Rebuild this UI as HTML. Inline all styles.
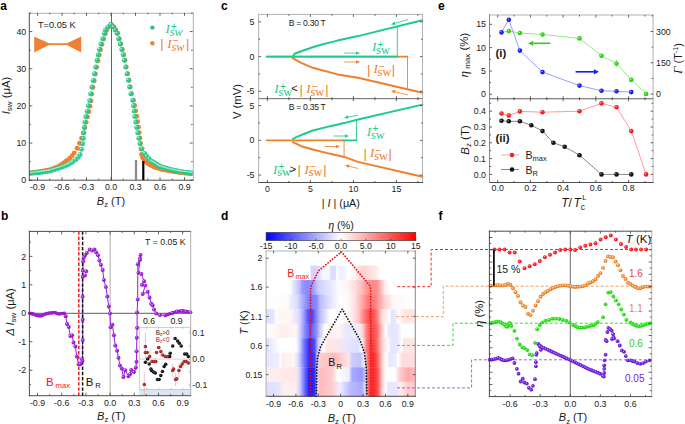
<!DOCTYPE html><html><head><meta charset="utf-8"><style>html,body{margin:0;padding:0;background:#fff;overflow:hidden}svg{display:block}</style></head><body>
<svg width="685" height="424" viewBox="0 0 685 424">
<rect width="685" height="424" fill="#fff"/>
<text x="0.30" y="9.90" font-size="12" text-anchor="start" fill="#000" font-weight="bold" font-style="normal" font-family='"Liberation Sans", sans-serif'>a</text>
<text x="0.90" y="219.80" font-size="12" text-anchor="start" fill="#000" font-weight="bold" font-style="normal" font-family='"Liberation Sans", sans-serif'>b</text>
<text x="221.00" y="9.90" font-size="12" text-anchor="start" fill="#000" font-weight="bold" font-style="normal" font-family='"Liberation Sans", sans-serif'>c</text>
<text x="221.00" y="219.80" font-size="12" text-anchor="start" fill="#000" font-weight="bold" font-style="normal" font-family='"Liberation Sans", sans-serif'>d</text>
<text x="438.00" y="9.90" font-size="12" text-anchor="start" fill="#000" font-weight="bold" font-style="normal" font-family='"Liberation Sans", sans-serif'>e</text>
<text x="438.50" y="219.80" font-size="12" text-anchor="start" fill="#000" font-weight="bold" font-style="normal" font-family='"Liberation Sans", sans-serif'>f</text>
<line x1="111.50" y1="12.80" x2="111.50" y2="180.20" stroke="#555" stroke-width="0.9"/>
<clipPath id="clipA"><rect x="29.3" y="12.8" width="163.4" height="167.4"/></clipPath><g clip-path="url(#clipA)">
<g fill="#ee8133" stroke="none" stroke-width="0"><circle cx="111.20" cy="24.60" r="2.45"/><circle cx="108.60" cy="27.23" r="2.45"/><circle cx="106.53" cy="30.21" r="2.45"/><circle cx="105.27" cy="33.69" r="2.45"/><circle cx="103.64" cy="39.04" r="2.45"/><circle cx="101.93" cy="44.38" r="2.45"/><circle cx="100.47" cy="49.78" r="2.45"/><circle cx="99.16" cy="55.23" r="2.45"/><circle cx="97.97" cy="60.70" r="2.45"/><circle cx="96.66" cy="67.37" r="2.45"/><circle cx="95.43" cy="74.06" r="2.45"/><circle cx="94.22" cy="80.75" r="2.45"/><circle cx="92.88" cy="87.41" r="2.45"/><circle cx="91.80" cy="94.12" r="2.45"/><circle cx="91.01" cy="100.88" r="2.45"/><circle cx="89.95" cy="106.27" r="2.45"/><circle cx="88.79" cy="111.65" r="2.45"/><circle cx="87.50" cy="116.99" r="2.45"/><circle cx="86.17" cy="122.33" r="2.45"/><circle cx="84.75" cy="127.64" r="2.45"/><circle cx="83.21" cy="132.92" r="2.45"/><circle cx="81.57" cy="138.17" r="2.45"/><circle cx="79.55" cy="143.28" r="2.45"/><circle cx="77.14" cy="148.21" r="2.45"/><circle cx="74.30" cy="152.92" r="2.45"/><circle cx="72.15" cy="155.65" r="2.45"/><circle cx="69.67" cy="158.13" r="2.45"/><circle cx="67.05" cy="160.44" r="2.45"/><circle cx="65.74" cy="161.52" r="2.45"/><circle cx="64.43" cy="162.61" r="2.45"/><circle cx="63.04" cy="163.58" r="2.45"/><circle cx="61.64" cy="164.54" r="2.45"/><circle cx="60.23" cy="165.49" r="2.45"/><circle cx="58.82" cy="166.44" r="2.45"/><circle cx="57.33" cy="167.23" r="2.45"/><circle cx="55.73" cy="167.80" r="2.45"/><circle cx="54.12" cy="168.36" r="2.45"/><circle cx="52.52" cy="168.92" r="2.45"/><circle cx="50.91" cy="169.48" r="2.45"/><circle cx="49.28" cy="169.93" r="2.45"/><circle cx="47.61" cy="170.23" r="2.45"/><circle cx="45.93" cy="170.53" r="2.45"/><circle cx="44.26" cy="170.83" r="2.45"/><circle cx="42.59" cy="171.13" r="2.45"/><circle cx="40.91" cy="171.44" r="2.45"/><circle cx="39.23" cy="171.70" r="2.45"/><circle cx="37.55" cy="171.93" r="2.45"/><circle cx="35.86" cy="172.15" r="2.45"/><circle cx="34.18" cy="172.38" r="2.45"/><circle cx="32.49" cy="172.60" r="2.45"/><circle cx="30.81" cy="172.83" r="2.45"/><circle cx="111.20" cy="24.60" r="2.45"/><circle cx="113.97" cy="26.89" r="2.45"/><circle cx="115.85" cy="30.08" r="2.45"/><circle cx="117.64" cy="33.31" r="2.45"/><circle cx="119.26" cy="38.67" r="2.45"/><circle cx="120.88" cy="44.03" r="2.45"/><circle cx="122.34" cy="49.43" r="2.45"/><circle cx="123.70" cy="54.87" r="2.45"/><circle cx="124.94" cy="60.32" r="2.45"/><circle cx="126.19" cy="67.01" r="2.45"/><circle cx="127.59" cy="73.66" r="2.45"/><circle cx="129.03" cy="80.31" r="2.45"/><circle cx="130.21" cy="87.00" r="2.45"/><circle cx="131.46" cy="93.69" r="2.45"/><circle cx="133.38" cy="100.16" r="2.45"/><circle cx="134.70" cy="105.48" r="2.45"/><circle cx="135.75" cy="110.87" r="2.45"/><circle cx="136.67" cy="116.30" r="2.45"/><circle cx="137.58" cy="121.72" r="2.45"/><circle cx="138.44" cy="127.15" r="2.45"/><circle cx="139.26" cy="132.59" r="2.45"/><circle cx="140.00" cy="138.04" r="2.45"/><circle cx="140.55" cy="143.51" r="2.45"/><circle cx="141.08" cy="148.99" r="2.45"/><circle cx="141.60" cy="154.46" r="2.45"/><circle cx="142.57" cy="157.71" r="2.45"/><circle cx="144.58" cy="160.57" r="2.45"/><circle cx="145.84" cy="161.72" r="2.45"/><circle cx="147.09" cy="162.87" r="2.45"/><circle cx="148.42" cy="163.91" r="2.45"/><circle cx="149.93" cy="164.69" r="2.45"/><circle cx="151.44" cy="165.47" r="2.45"/><circle cx="152.95" cy="166.25" r="2.45"/><circle cx="154.46" cy="167.02" r="2.45"/><circle cx="156.05" cy="167.62" r="2.45"/><circle cx="157.68" cy="168.10" r="2.45"/><circle cx="159.31" cy="168.59" r="2.45"/><circle cx="160.94" cy="169.08" r="2.45"/><circle cx="162.58" cy="169.50" r="2.45"/><circle cx="164.25" cy="169.79" r="2.45"/><circle cx="165.93" cy="170.09" r="2.45"/><circle cx="167.60" cy="170.38" r="2.45"/><circle cx="169.28" cy="170.67" r="2.45"/><circle cx="170.95" cy="170.96" r="2.45"/><circle cx="172.63" cy="171.25" r="2.45"/><circle cx="174.31" cy="171.53" r="2.45"/><circle cx="175.98" cy="171.82" r="2.45"/><circle cx="177.66" cy="172.10" r="2.45"/><circle cx="179.33" cy="172.39" r="2.45"/><circle cx="181.02" cy="172.61" r="2.45"/><circle cx="182.71" cy="172.78" r="2.45"/><circle cx="184.40" cy="172.96" r="2.45"/><circle cx="186.09" cy="173.13" r="2.45"/><circle cx="187.78" cy="173.31" r="2.45"/><circle cx="189.47" cy="173.49" r="2.45"/><circle cx="191.16" cy="173.66" r="2.45"/></g>
<g opacity="0.9">
<g fill="#22c98e" stroke="none" stroke-width="0"><circle cx="110.70" cy="24.60" r="2.5"/><circle cx="107.86" cy="26.96" r="2.5"/><circle cx="105.65" cy="29.85" r="2.5"/><circle cx="104.40" cy="33.33" r="2.5"/><circle cx="102.75" cy="38.69" r="2.5"/><circle cx="101.04" cy="44.02" r="2.5"/><circle cx="99.56" cy="49.42" r="2.5"/><circle cx="98.25" cy="54.86" r="2.5"/><circle cx="97.04" cy="60.33" r="2.5"/><circle cx="95.73" cy="67.00" r="2.5"/><circle cx="94.49" cy="73.69" r="2.5"/><circle cx="93.29" cy="80.38" r="2.5"/><circle cx="91.90" cy="87.04" r="2.5"/><circle cx="90.69" cy="93.72" r="2.5"/><circle cx="89.77" cy="100.46" r="2.5"/><circle cx="88.35" cy="105.77" r="2.5"/><circle cx="87.26" cy="111.15" r="2.5"/><circle cx="85.91" cy="116.49" r="2.5"/><circle cx="84.96" cy="121.90" r="2.5"/><circle cx="84.42" cy="127.37" r="2.5"/><circle cx="83.85" cy="132.84" r="2.5"/><circle cx="83.22" cy="138.30" r="2.5"/><circle cx="82.59" cy="143.77" r="2.5"/><circle cx="81.45" cy="149.15" r="2.5"/><circle cx="80.00" cy="154.45" r="2.5"/><circle cx="78.16" cy="157.31" r="2.5"/><circle cx="75.66" cy="159.75" r="2.5"/><circle cx="72.78" cy="161.70" r="2.5"/><circle cx="71.30" cy="162.54" r="2.5"/><circle cx="69.82" cy="163.37" r="2.5"/><circle cx="68.34" cy="164.21" r="2.5"/><circle cx="66.84" cy="164.99" r="2.5"/><circle cx="65.26" cy="165.62" r="2.5"/><circle cx="63.68" cy="166.26" r="2.5"/><circle cx="62.10" cy="166.89" r="2.5"/><circle cx="60.53" cy="167.53" r="2.5"/><circle cx="58.93" cy="168.10" r="2.5"/><circle cx="57.30" cy="168.60" r="2.5"/><circle cx="55.68" cy="169.09" r="2.5"/><circle cx="54.05" cy="169.58" r="2.5"/><circle cx="52.42" cy="170.07" r="2.5"/><circle cx="50.79" cy="170.56" r="2.5"/><circle cx="49.14" cy="170.93" r="2.5"/><circle cx="47.46" cy="171.18" r="2.5"/><circle cx="45.78" cy="171.43" r="2.5"/><circle cx="44.09" cy="171.69" r="2.5"/><circle cx="42.41" cy="171.94" r="2.5"/><circle cx="40.73" cy="172.19" r="2.5"/><circle cx="39.05" cy="172.40" r="2.5"/><circle cx="37.35" cy="172.58" r="2.5"/><circle cx="35.66" cy="172.75" r="2.5"/><circle cx="33.97" cy="172.93" r="2.5"/><circle cx="32.28" cy="173.11" r="2.5"/><circle cx="30.59" cy="173.29" r="2.5"/><circle cx="110.70" cy="24.60" r="2.5"/><circle cx="113.47" cy="26.89" r="2.5"/><circle cx="115.35" cy="30.08" r="2.5"/><circle cx="117.14" cy="33.31" r="2.5"/><circle cx="118.76" cy="38.67" r="2.5"/><circle cx="120.38" cy="44.03" r="2.5"/><circle cx="121.84" cy="49.43" r="2.5"/><circle cx="123.20" cy="54.87" r="2.5"/><circle cx="124.44" cy="60.32" r="2.5"/><circle cx="125.69" cy="67.01" r="2.5"/><circle cx="127.09" cy="73.66" r="2.5"/><circle cx="128.53" cy="80.31" r="2.5"/><circle cx="129.71" cy="87.00" r="2.5"/><circle cx="130.96" cy="93.69" r="2.5"/><circle cx="132.77" cy="100.22" r="2.5"/><circle cx="133.56" cy="105.63" r="2.5"/><circle cx="134.16" cy="111.09" r="2.5"/><circle cx="134.81" cy="116.55" r="2.5"/><circle cx="135.73" cy="121.98" r="2.5"/><circle cx="136.68" cy="127.39" r="2.5"/><circle cx="137.77" cy="132.78" r="2.5"/><circle cx="138.89" cy="138.17" r="2.5"/><circle cx="140.05" cy="143.54" r="2.5"/><circle cx="142.03" cy="148.67" r="2.5"/><circle cx="144.68" cy="153.46" r="2.5"/><circle cx="146.71" cy="156.30" r="2.5"/><circle cx="149.21" cy="158.75" r="2.5"/><circle cx="151.75" cy="161.15" r="2.5"/><circle cx="153.18" cy="162.06" r="2.5"/><circle cx="154.62" cy="162.96" r="2.5"/><circle cx="156.06" cy="163.87" r="2.5"/><circle cx="157.50" cy="164.78" r="2.5"/><circle cx="158.94" cy="165.68" r="2.5"/><circle cx="160.38" cy="166.59" r="2.5"/><circle cx="162.00" cy="167.08" r="2.5"/><circle cx="163.63" cy="167.58" r="2.5"/><circle cx="165.26" cy="168.07" r="2.5"/><circle cx="166.88" cy="168.56" r="2.5"/><circle cx="168.51" cy="169.05" r="2.5"/><circle cx="170.14" cy="169.53" r="2.5"/><circle cx="171.81" cy="169.86" r="2.5"/><circle cx="173.48" cy="170.20" r="2.5"/><circle cx="175.14" cy="170.53" r="2.5"/><circle cx="176.81" cy="170.86" r="2.5"/><circle cx="178.48" cy="171.20" r="2.5"/><circle cx="180.15" cy="171.52" r="2.5"/><circle cx="181.83" cy="171.72" r="2.5"/><circle cx="183.52" cy="171.92" r="2.5"/><circle cx="185.21" cy="172.13" r="2.5"/><circle cx="186.90" cy="172.33" r="2.5"/><circle cx="188.59" cy="172.53" r="2.5"/><circle cx="190.27" cy="172.73" r="2.5"/><circle cx="191.96" cy="172.94" r="2.5"/></g>
</g>
<g fill="#bff3dc" stroke="none" stroke-width="0"><circle cx="109.90" cy="23.80" r="0.8"/><circle cx="107.06" cy="26.16" r="0.8"/><circle cx="104.85" cy="29.05" r="0.8"/><circle cx="103.60" cy="32.53" r="0.8"/><circle cx="101.95" cy="37.89" r="0.8"/><circle cx="100.24" cy="43.22" r="0.8"/><circle cx="98.76" cy="48.62" r="0.8"/><circle cx="97.45" cy="54.06" r="0.8"/><circle cx="96.24" cy="59.53" r="0.8"/><circle cx="94.93" cy="66.20" r="0.8"/><circle cx="93.69" cy="72.89" r="0.8"/><circle cx="92.49" cy="79.58" r="0.8"/><circle cx="91.10" cy="86.24" r="0.8"/><circle cx="89.89" cy="92.92" r="0.8"/><circle cx="88.97" cy="99.66" r="0.8"/><circle cx="87.55" cy="104.97" r="0.8"/><circle cx="86.46" cy="110.35" r="0.8"/><circle cx="85.11" cy="115.69" r="0.8"/><circle cx="84.16" cy="121.10" r="0.8"/><circle cx="83.62" cy="126.57" r="0.8"/><circle cx="83.05" cy="132.04" r="0.8"/><circle cx="82.42" cy="137.50" r="0.8"/><circle cx="81.79" cy="142.97" r="0.8"/><circle cx="80.65" cy="148.35" r="0.8"/><circle cx="79.20" cy="153.65" r="0.8"/><circle cx="77.36" cy="156.51" r="0.8"/><circle cx="74.86" cy="158.95" r="0.8"/><circle cx="71.98" cy="160.90" r="0.8"/><circle cx="70.50" cy="161.74" r="0.8"/><circle cx="69.02" cy="162.57" r="0.8"/><circle cx="67.54" cy="163.41" r="0.8"/><circle cx="66.04" cy="164.19" r="0.8"/><circle cx="64.46" cy="164.82" r="0.8"/><circle cx="62.88" cy="165.46" r="0.8"/><circle cx="61.30" cy="166.09" r="0.8"/><circle cx="59.73" cy="166.73" r="0.8"/><circle cx="58.13" cy="167.30" r="0.8"/><circle cx="56.50" cy="167.80" r="0.8"/><circle cx="54.88" cy="168.29" r="0.8"/><circle cx="53.25" cy="168.78" r="0.8"/><circle cx="51.62" cy="169.27" r="0.8"/><circle cx="49.99" cy="169.76" r="0.8"/><circle cx="48.34" cy="170.13" r="0.8"/><circle cx="46.66" cy="170.38" r="0.8"/><circle cx="44.98" cy="170.63" r="0.8"/><circle cx="43.29" cy="170.89" r="0.8"/><circle cx="41.61" cy="171.14" r="0.8"/><circle cx="39.93" cy="171.39" r="0.8"/><circle cx="38.25" cy="171.60" r="0.8"/><circle cx="36.55" cy="171.78" r="0.8"/><circle cx="34.86" cy="171.95" r="0.8"/><circle cx="33.17" cy="172.13" r="0.8"/><circle cx="31.48" cy="172.31" r="0.8"/><circle cx="29.79" cy="172.49" r="0.8"/><circle cx="109.90" cy="23.80" r="0.8"/><circle cx="112.67" cy="26.09" r="0.8"/><circle cx="114.55" cy="29.28" r="0.8"/><circle cx="116.34" cy="32.51" r="0.8"/><circle cx="117.96" cy="37.87" r="0.8"/><circle cx="119.58" cy="43.23" r="0.8"/><circle cx="121.04" cy="48.63" r="0.8"/><circle cx="122.40" cy="54.07" r="0.8"/><circle cx="123.64" cy="59.52" r="0.8"/><circle cx="124.89" cy="66.21" r="0.8"/><circle cx="126.29" cy="72.86" r="0.8"/><circle cx="127.73" cy="79.51" r="0.8"/><circle cx="128.91" cy="86.20" r="0.8"/><circle cx="130.16" cy="92.89" r="0.8"/><circle cx="131.97" cy="99.42" r="0.8"/><circle cx="132.76" cy="104.83" r="0.8"/><circle cx="133.36" cy="110.29" r="0.8"/><circle cx="134.01" cy="115.75" r="0.8"/><circle cx="134.93" cy="121.18" r="0.8"/><circle cx="135.88" cy="126.59" r="0.8"/><circle cx="136.97" cy="131.98" r="0.8"/><circle cx="138.09" cy="137.37" r="0.8"/><circle cx="139.25" cy="142.74" r="0.8"/><circle cx="141.23" cy="147.87" r="0.8"/><circle cx="143.88" cy="152.66" r="0.8"/><circle cx="145.91" cy="155.50" r="0.8"/><circle cx="148.41" cy="157.95" r="0.8"/><circle cx="150.95" cy="160.35" r="0.8"/><circle cx="152.38" cy="161.26" r="0.8"/><circle cx="153.82" cy="162.16" r="0.8"/><circle cx="155.26" cy="163.07" r="0.8"/><circle cx="156.70" cy="163.98" r="0.8"/><circle cx="158.14" cy="164.88" r="0.8"/><circle cx="159.58" cy="165.79" r="0.8"/><circle cx="161.20" cy="166.28" r="0.8"/><circle cx="162.83" cy="166.78" r="0.8"/><circle cx="164.46" cy="167.27" r="0.8"/><circle cx="166.08" cy="167.76" r="0.8"/><circle cx="167.71" cy="168.25" r="0.8"/><circle cx="169.34" cy="168.73" r="0.8"/><circle cx="171.01" cy="169.06" r="0.8"/><circle cx="172.68" cy="169.40" r="0.8"/><circle cx="174.34" cy="169.73" r="0.8"/><circle cx="176.01" cy="170.06" r="0.8"/><circle cx="177.68" cy="170.40" r="0.8"/><circle cx="179.35" cy="170.72" r="0.8"/><circle cx="181.03" cy="170.92" r="0.8"/><circle cx="182.72" cy="171.12" r="0.8"/><circle cx="184.41" cy="171.33" r="0.8"/><circle cx="186.10" cy="171.53" r="0.8"/><circle cx="187.79" cy="171.73" r="0.8"/><circle cx="189.47" cy="171.93" r="0.8"/><circle cx="191.16" cy="172.14" r="0.8"/></g>
</g>
<g stroke-width="0.9" stroke-linecap="square"><line x1="29.30" y1="13.30" x2="193.30" y2="13.30" stroke="#a8a8a8"/><line x1="193.30" y1="13.30" x2="193.30" y2="180.20" stroke="#a8a8a8"/><line x1="29.30" y1="180.20" x2="193.30" y2="180.20" stroke="#3a3a3a"/><line x1="29.30" y1="13.30" x2="29.30" y2="180.20" stroke="#3a3a3a"/></g>
<line x1="37.47" y1="180.20" x2="37.47" y2="177.20" stroke="#3a3a3a" stroke-width="0.8"/>
<line x1="37.47" y1="12.80" x2="37.47" y2="15.80" stroke="#3a3a3a" stroke-width="0.8"/>
<line x1="49.72" y1="180.20" x2="49.72" y2="178.60" stroke="#3a3a3a" stroke-width="0.8"/>
<line x1="49.72" y1="12.80" x2="49.72" y2="14.40" stroke="#3a3a3a" stroke-width="0.8"/>
<line x1="61.98" y1="180.20" x2="61.98" y2="177.20" stroke="#3a3a3a" stroke-width="0.8"/>
<line x1="61.98" y1="12.80" x2="61.98" y2="15.80" stroke="#3a3a3a" stroke-width="0.8"/>
<line x1="74.23" y1="180.20" x2="74.23" y2="178.60" stroke="#3a3a3a" stroke-width="0.8"/>
<line x1="74.23" y1="12.80" x2="74.23" y2="14.40" stroke="#3a3a3a" stroke-width="0.8"/>
<line x1="86.49" y1="180.20" x2="86.49" y2="177.20" stroke="#3a3a3a" stroke-width="0.8"/>
<line x1="86.49" y1="12.80" x2="86.49" y2="15.80" stroke="#3a3a3a" stroke-width="0.8"/>
<line x1="98.75" y1="180.20" x2="98.75" y2="178.60" stroke="#3a3a3a" stroke-width="0.8"/>
<line x1="98.75" y1="12.80" x2="98.75" y2="14.40" stroke="#3a3a3a" stroke-width="0.8"/>
<line x1="111.00" y1="180.20" x2="111.00" y2="177.20" stroke="#3a3a3a" stroke-width="0.8"/>
<line x1="111.00" y1="12.80" x2="111.00" y2="15.80" stroke="#3a3a3a" stroke-width="0.8"/>
<line x1="123.25" y1="180.20" x2="123.25" y2="178.60" stroke="#3a3a3a" stroke-width="0.8"/>
<line x1="123.25" y1="12.80" x2="123.25" y2="14.40" stroke="#3a3a3a" stroke-width="0.8"/>
<line x1="135.51" y1="180.20" x2="135.51" y2="177.20" stroke="#3a3a3a" stroke-width="0.8"/>
<line x1="135.51" y1="12.80" x2="135.51" y2="15.80" stroke="#3a3a3a" stroke-width="0.8"/>
<line x1="147.76" y1="180.20" x2="147.76" y2="178.60" stroke="#3a3a3a" stroke-width="0.8"/>
<line x1="147.76" y1="12.80" x2="147.76" y2="14.40" stroke="#3a3a3a" stroke-width="0.8"/>
<line x1="160.02" y1="180.20" x2="160.02" y2="177.20" stroke="#3a3a3a" stroke-width="0.8"/>
<line x1="160.02" y1="12.80" x2="160.02" y2="15.80" stroke="#3a3a3a" stroke-width="0.8"/>
<line x1="172.28" y1="180.20" x2="172.28" y2="178.60" stroke="#3a3a3a" stroke-width="0.8"/>
<line x1="172.28" y1="12.80" x2="172.28" y2="14.40" stroke="#3a3a3a" stroke-width="0.8"/>
<line x1="184.53" y1="180.20" x2="184.53" y2="177.20" stroke="#3a3a3a" stroke-width="0.8"/>
<line x1="184.53" y1="12.80" x2="184.53" y2="15.80" stroke="#3a3a3a" stroke-width="0.8"/>
<line x1="29.30" y1="180.20" x2="32.30" y2="180.20" stroke="#3a3a3a" stroke-width="0.8"/>
<line x1="192.70" y1="180.20" x2="189.70" y2="180.20" stroke="#3a3a3a" stroke-width="0.8"/>
<line x1="29.30" y1="161.62" x2="30.90" y2="161.62" stroke="#3a3a3a" stroke-width="0.8"/>
<line x1="192.70" y1="161.62" x2="191.10" y2="161.62" stroke="#3a3a3a" stroke-width="0.8"/>
<line x1="29.30" y1="143.05" x2="32.30" y2="143.05" stroke="#3a3a3a" stroke-width="0.8"/>
<line x1="192.70" y1="143.05" x2="189.70" y2="143.05" stroke="#3a3a3a" stroke-width="0.8"/>
<line x1="29.30" y1="124.47" x2="30.90" y2="124.47" stroke="#3a3a3a" stroke-width="0.8"/>
<line x1="192.70" y1="124.47" x2="191.10" y2="124.47" stroke="#3a3a3a" stroke-width="0.8"/>
<line x1="29.30" y1="105.90" x2="32.30" y2="105.90" stroke="#3a3a3a" stroke-width="0.8"/>
<line x1="192.70" y1="105.90" x2="189.70" y2="105.90" stroke="#3a3a3a" stroke-width="0.8"/>
<line x1="29.30" y1="87.32" x2="30.90" y2="87.32" stroke="#3a3a3a" stroke-width="0.8"/>
<line x1="192.70" y1="87.32" x2="191.10" y2="87.32" stroke="#3a3a3a" stroke-width="0.8"/>
<line x1="29.30" y1="68.75" x2="32.30" y2="68.75" stroke="#3a3a3a" stroke-width="0.8"/>
<line x1="192.70" y1="68.75" x2="189.70" y2="68.75" stroke="#3a3a3a" stroke-width="0.8"/>
<line x1="29.30" y1="50.17" x2="30.90" y2="50.17" stroke="#3a3a3a" stroke-width="0.8"/>
<line x1="192.70" y1="50.17" x2="191.10" y2="50.17" stroke="#3a3a3a" stroke-width="0.8"/>
<line x1="29.30" y1="31.60" x2="32.30" y2="31.60" stroke="#3a3a3a" stroke-width="0.8"/>
<line x1="192.70" y1="31.60" x2="189.70" y2="31.60" stroke="#3a3a3a" stroke-width="0.8"/>
<line x1="29.30" y1="13.03" x2="30.90" y2="13.03" stroke="#3a3a3a" stroke-width="0.8"/>
<line x1="192.70" y1="13.03" x2="191.10" y2="13.03" stroke="#3a3a3a" stroke-width="0.8"/>
<text x="37.47" y="190.40" font-size="8.8" text-anchor="middle" fill="#1a1a1a" font-weight="normal" font-style="normal" font-family='"Liberation Sans", sans-serif'>-0.9</text>
<text x="61.98" y="190.40" font-size="8.8" text-anchor="middle" fill="#1a1a1a" font-weight="normal" font-style="normal" font-family='"Liberation Sans", sans-serif'>-0.6</text>
<text x="86.49" y="190.40" font-size="8.8" text-anchor="middle" fill="#1a1a1a" font-weight="normal" font-style="normal" font-family='"Liberation Sans", sans-serif'>-0.3</text>
<text x="111.00" y="190.40" font-size="8.8" text-anchor="middle" fill="#1a1a1a" font-weight="normal" font-style="normal" font-family='"Liberation Sans", sans-serif'>0.0</text>
<text x="135.51" y="190.40" font-size="8.8" text-anchor="middle" fill="#1a1a1a" font-weight="normal" font-style="normal" font-family='"Liberation Sans", sans-serif'>0.3</text>
<text x="160.02" y="190.40" font-size="8.8" text-anchor="middle" fill="#1a1a1a" font-weight="normal" font-style="normal" font-family='"Liberation Sans", sans-serif'>0.6</text>
<text x="184.53" y="190.40" font-size="8.8" text-anchor="middle" fill="#1a1a1a" font-weight="normal" font-style="normal" font-family='"Liberation Sans", sans-serif'>0.9</text>
<text x="26.20" y="183.30" font-size="8.8" text-anchor="end" fill="#1a1a1a" font-weight="normal" font-style="normal" font-family='"Liberation Sans", sans-serif'>0</text>
<text x="26.20" y="146.15" font-size="8.8" text-anchor="end" fill="#1a1a1a" font-weight="normal" font-style="normal" font-family='"Liberation Sans", sans-serif'>10</text>
<text x="26.20" y="109.00" font-size="8.8" text-anchor="end" fill="#1a1a1a" font-weight="normal" font-style="normal" font-family='"Liberation Sans", sans-serif'>20</text>
<text x="26.20" y="71.85" font-size="8.8" text-anchor="end" fill="#1a1a1a" font-weight="normal" font-style="normal" font-family='"Liberation Sans", sans-serif'>30</text>
<text x="26.20" y="34.70" font-size="8.8" text-anchor="end" fill="#1a1a1a" font-weight="normal" font-style="normal" font-family='"Liberation Sans", sans-serif'>40</text>
<text x="111.00" y="205.00" font-size="11" text-anchor="middle" fill="#1a1a1a" font-weight="normal" font-style="normal" font-family='"Liberation Sans", sans-serif'><tspan font-style="italic">B</tspan><tspan font-size="7.7" dy="2.4">z</tspan><tspan dy="-2.4"> (T)</tspan></text>
<text x="10.20" y="95.50" font-size="11.3" text-anchor="middle" fill="#1a1a1a" font-weight="normal" font-style="normal" font-family='"Liberation Sans", sans-serif' transform="rotate(-90 10.20 95.50)"><tspan font-style="italic">I</tspan><tspan font-size="8" dy="1.8">sw</tspan><tspan dy="-1.8"> (μA)</tspan></text>
<text x="38.00" y="28.40" font-size="9.2" text-anchor="start" fill="#1a1a1a" font-weight="normal" font-style="normal" font-family='"Liberation Sans", sans-serif'>T=0.05 K</text>
<path d="M34.2,36.4 L48.9,43.3 L67,43.3 L81.2,36.4 L81.2,52.4 L67,45.1 L48.9,45.1 L34.2,52.4 Z" fill="#ee8133"/>
<g fill="#22c98e" stroke="none" stroke-width="0"><circle cx="152.40" cy="27.60" r="2.2"/></g>
<g fill="#ee8133" stroke="none" stroke-width="0"><circle cx="152.40" cy="43.20" r="2.2"/></g>
<text x="165.50" y="33.00" font-family='"Liberation Serif", serif' font-style="italic" font-size="13" fill="#22c98e">I</text>
<text x="169.70" y="35.60" font-family='"Liberation Serif", serif' font-style="italic" font-size="12.3" fill="#22c98e">sw</text>
<text x="171.10" y="29.50" font-family='"Liberation Sans", sans-serif' font-size="10" fill="#22c98e">+</text>
<text x="160.30" y="47.70" font-family='"Liberation Sans", sans-serif' font-size="13" fill="#ee8133">|</text>
<text x="167.30" y="47.90" font-family='"Liberation Serif", serif' font-style="italic" font-size="13" fill="#ee8133">I</text>
<text x="171.50" y="50.50" font-family='"Liberation Serif", serif' font-style="italic" font-size="12.3" fill="#ee8133">sw</text>
<text x="172.90" y="44.40" font-family='"Liberation Sans", sans-serif' font-size="10" fill="#ee8133">−</text>
<text x="186.10" y="47.70" font-family='"Liberation Sans", sans-serif' font-size="13" fill="#ee8133">|</text>
<line x1="136.00" y1="160.00" x2="136.00" y2="180.00" stroke="#8a8a8a" stroke-width="2.3"/>
<line x1="143.30" y1="161.00" x2="143.30" y2="180.00" stroke="#000" stroke-width="2.2"/>
<line x1="110.10" y1="231.40" x2="110.10" y2="395.70" stroke="#aaa" stroke-width="1.0"/>
<line x1="29.40" y1="313.30" x2="190.70" y2="313.30" stroke="#333" stroke-width="0.8"/>
<rect x="139.3" y="327.3" width="51" height="62.2" fill="#fff"/>
<rect x="139.3" y="389.5" width="51" height="6.2" fill="#dbe6f5"/>
<polyline points="29.70,313.30 33.00,314.00 37.00,315.50 41.00,316.00 45.00,314.00 50.00,313.00 55.00,312.50 58.00,314.00 62.00,313.50 65.30,313.30 65.70,316.20 67.00,324.00 68.80,327.00 70.30,335.90 72.10,335.30 73.50,342.40 75.40,346.50 76.80,356.50 78.60,364.20 80.30,364.20 81.90,358.90 82.50,360.70 82.70,340.00 82.70,319.70 82.60,296.70 82.70,276.70 82.80,270.80 83.20,261.30 83.80,257.70 85.00,255.30 86.80,253.00 89.70,249.40 92.10,250.60 94.50,249.40 96.20,252.40 98.00,255.30 99.40,260.60 100.90,264.80 102.70,270.00 103.90,280.00 105.90,287.10 107.30,296.50 108.80,306.50 110.00,313.60 110.60,327.20 112.40,324.80 113.90,335.30 115.30,345.40 117.10,350.70 118.50,357.80 119.90,365.60 121.70,368.40 123.40,376.90 125.20,370.20 128.40,376.20 130.20,374.10 131.20,369.90 134.00,372.00 135.80,367.70 136.50,361.70 136.60,351.30 136.80,337.70 137.10,327.80 137.10,312.40 137.70,299.50 137.80,264.20 139.90,258.40 140.50,254.90 139.90,260.00 138.50,272.70 141.30,274.10 144.10,281.20 142.00,284.80 145.30,285.50 142.70,294.00 147.70,291.80 149.50,297.50 151.20,303.80 152.60,305.30 154.00,309.50 156.20,313.50 160.00,315.00 165.40,315.20 172.40,313.00 177.00,311.50 182.30,310.90 186.00,311.50 190.30,312.30" stroke="#9a1fd6" stroke-width="1.0" fill="none" stroke-linejoin="round" stroke-linecap="round"/>
<line x1="78.80" y1="231.40" x2="78.80" y2="395.70" stroke="#f02020" stroke-width="1.5" stroke-dasharray="3.4,1.8"/>
<line x1="82.60" y1="231.40" x2="82.60" y2="395.70" stroke="#111" stroke-width="1.5" stroke-dasharray="3.4,1.8"/>
<g fill="#9a1fd6" stroke="none" stroke-width="0"><circle cx="29.70" cy="313.30" r="1.8"/><circle cx="31.17" cy="313.61" r="1.8"/><circle cx="32.63" cy="313.92" r="1.8"/><circle cx="34.05" cy="314.40" r="1.8"/><circle cx="35.46" cy="314.92" r="1.8"/><circle cx="36.86" cy="315.45" r="1.8"/><circle cx="38.34" cy="315.67" r="1.8"/><circle cx="39.83" cy="315.85" r="1.8"/><circle cx="41.29" cy="315.86" r="1.8"/><circle cx="42.63" cy="315.18" r="1.8"/><circle cx="43.97" cy="314.51" r="1.8"/><circle cx="45.34" cy="313.93" r="1.8"/><circle cx="46.82" cy="313.64" r="1.8"/><circle cx="48.29" cy="313.34" r="1.8"/><circle cx="49.76" cy="313.05" r="1.8"/><circle cx="51.25" cy="312.88" r="1.8"/><circle cx="52.74" cy="312.73" r="1.8"/><circle cx="54.23" cy="312.58" r="1.8"/><circle cx="55.65" cy="312.83" r="1.8"/><circle cx="56.99" cy="313.50" r="1.8"/><circle cx="58.37" cy="313.95" r="1.8"/><circle cx="59.86" cy="313.77" r="1.8"/><circle cx="61.35" cy="313.58" r="1.8"/><circle cx="62.84" cy="313.45" r="1.8"/><circle cx="64.34" cy="313.36" r="1.8"/><circle cx="165.40" cy="315.20" r="1.8"/><circle cx="166.93" cy="314.72" r="1.8"/><circle cx="168.45" cy="314.24" r="1.8"/><circle cx="169.98" cy="313.76" r="1.8"/><circle cx="171.51" cy="313.28" r="1.8"/><circle cx="173.03" cy="312.79" r="1.8"/><circle cx="174.55" cy="312.30" r="1.8"/><circle cx="176.07" cy="311.80" r="1.8"/><circle cx="177.62" cy="311.43" r="1.8"/><circle cx="179.21" cy="311.25" r="1.8"/><circle cx="180.80" cy="311.07" r="1.8"/><circle cx="182.39" cy="310.91" r="1.8"/><circle cx="183.97" cy="311.17" r="1.8"/><circle cx="185.55" cy="311.43" r="1.8"/><circle cx="187.12" cy="311.71" r="1.8"/><circle cx="188.70" cy="312.00" r="1.8"/><circle cx="190.27" cy="312.29" r="1.8"/></g>
<g fill="#9a1fd6" stroke="none" stroke-width="0"><circle cx="65.70" cy="316.20" r="2.0"/><circle cx="67.00" cy="324.00" r="2.0"/><circle cx="68.80" cy="327.00" r="2.0"/><circle cx="70.30" cy="335.90" r="2.0"/><circle cx="72.10" cy="335.30" r="2.0"/><circle cx="73.50" cy="342.40" r="2.0"/><circle cx="75.40" cy="346.50" r="2.0"/><circle cx="76.80" cy="356.50" r="2.0"/><circle cx="78.60" cy="364.20" r="2.0"/><circle cx="80.30" cy="364.20" r="2.0"/><circle cx="81.90" cy="358.90" r="2.0"/><circle cx="82.50" cy="360.70" r="2.0"/><circle cx="82.70" cy="340.00" r="2.0"/><circle cx="82.70" cy="319.70" r="2.0"/><circle cx="82.60" cy="296.70" r="2.0"/><circle cx="82.70" cy="276.70" r="2.0"/><circle cx="82.80" cy="270.80" r="2.0"/><circle cx="83.20" cy="261.30" r="2.0"/><circle cx="83.80" cy="257.70" r="2.0"/><circle cx="85.00" cy="255.30" r="2.0"/><circle cx="86.80" cy="253.00" r="2.0"/><circle cx="89.70" cy="249.40" r="2.0"/><circle cx="92.10" cy="250.60" r="2.0"/><circle cx="94.50" cy="249.40" r="2.0"/><circle cx="96.20" cy="252.40" r="2.0"/><circle cx="98.00" cy="255.30" r="2.0"/><circle cx="99.40" cy="260.60" r="2.0"/><circle cx="100.90" cy="264.80" r="2.0"/><circle cx="102.70" cy="270.00" r="2.0"/><circle cx="103.90" cy="280.00" r="2.0"/><circle cx="105.90" cy="287.10" r="2.0"/><circle cx="107.30" cy="296.50" r="2.0"/><circle cx="108.80" cy="306.50" r="2.0"/><circle cx="110.00" cy="313.60" r="2.0"/><circle cx="110.60" cy="327.20" r="2.0"/><circle cx="112.40" cy="324.80" r="2.0"/><circle cx="113.90" cy="335.30" r="2.0"/><circle cx="115.30" cy="345.40" r="2.0"/><circle cx="117.10" cy="350.70" r="2.0"/><circle cx="118.50" cy="357.80" r="2.0"/><circle cx="119.90" cy="365.60" r="2.0"/><circle cx="121.70" cy="368.40" r="2.0"/><circle cx="123.40" cy="376.90" r="2.0"/><circle cx="125.20" cy="370.20" r="2.0"/><circle cx="128.40" cy="376.20" r="2.0"/><circle cx="130.20" cy="374.10" r="2.0"/><circle cx="131.20" cy="369.90" r="2.0"/><circle cx="134.00" cy="372.00" r="2.0"/><circle cx="135.80" cy="367.70" r="2.0"/><circle cx="136.50" cy="361.70" r="2.0"/><circle cx="136.60" cy="351.30" r="2.0"/><circle cx="136.80" cy="337.70" r="2.0"/><circle cx="137.10" cy="327.80" r="2.0"/><circle cx="137.10" cy="312.40" r="2.0"/><circle cx="137.70" cy="299.50" r="2.0"/><circle cx="137.80" cy="264.20" r="2.0"/><circle cx="139.90" cy="258.40" r="2.0"/><circle cx="140.50" cy="254.90" r="2.0"/><circle cx="139.90" cy="260.00" r="2.0"/><circle cx="138.50" cy="272.70" r="2.0"/><circle cx="141.30" cy="274.10" r="2.0"/><circle cx="144.10" cy="281.20" r="2.0"/><circle cx="142.00" cy="284.80" r="2.0"/><circle cx="145.30" cy="285.50" r="2.0"/><circle cx="142.70" cy="294.00" r="2.0"/><circle cx="147.70" cy="291.80" r="2.0"/><circle cx="149.50" cy="297.50" r="2.0"/><circle cx="151.20" cy="303.80" r="2.0"/><circle cx="152.60" cy="305.30" r="2.0"/><circle cx="154.00" cy="309.50" r="2.0"/><circle cx="156.20" cy="313.50" r="2.0"/><circle cx="160.00" cy="315.00" r="2.0"/><circle cx="165.40" cy="315.20" r="2.0"/><circle cx="172.40" cy="313.00" r="2.0"/><circle cx="177.00" cy="311.50" r="2.0"/><circle cx="182.30" cy="310.90" r="2.0"/><circle cx="186.00" cy="311.50" r="2.0"/><circle cx="190.30" cy="312.30" r="2.0"/><circle cx="86.20" cy="271.30" r="2.0"/><circle cx="85.00" cy="275.40" r="2.0"/></g>
<g fill="#e0b8f5" stroke="none" stroke-width="0"><circle cx="65.10" cy="315.60" r="0.65"/><circle cx="66.40" cy="323.40" r="0.65"/><circle cx="68.20" cy="326.40" r="0.65"/><circle cx="69.70" cy="335.30" r="0.65"/><circle cx="71.50" cy="334.70" r="0.65"/><circle cx="72.90" cy="341.80" r="0.65"/><circle cx="74.80" cy="345.90" r="0.65"/><circle cx="76.20" cy="355.90" r="0.65"/><circle cx="78.00" cy="363.60" r="0.65"/><circle cx="79.70" cy="363.60" r="0.65"/><circle cx="81.30" cy="358.30" r="0.65"/><circle cx="81.90" cy="360.10" r="0.65"/><circle cx="82.10" cy="339.40" r="0.65"/><circle cx="82.10" cy="319.10" r="0.65"/><circle cx="82.00" cy="296.10" r="0.65"/><circle cx="82.10" cy="276.10" r="0.65"/><circle cx="82.20" cy="270.20" r="0.65"/><circle cx="82.60" cy="260.70" r="0.65"/><circle cx="83.20" cy="257.10" r="0.65"/><circle cx="84.40" cy="254.70" r="0.65"/><circle cx="86.20" cy="252.40" r="0.65"/><circle cx="89.10" cy="248.80" r="0.65"/><circle cx="91.50" cy="250.00" r="0.65"/><circle cx="93.90" cy="248.80" r="0.65"/><circle cx="95.60" cy="251.80" r="0.65"/><circle cx="97.40" cy="254.70" r="0.65"/><circle cx="98.80" cy="260.00" r="0.65"/><circle cx="100.30" cy="264.20" r="0.65"/><circle cx="102.10" cy="269.40" r="0.65"/><circle cx="103.30" cy="279.40" r="0.65"/><circle cx="105.30" cy="286.50" r="0.65"/><circle cx="106.70" cy="295.90" r="0.65"/><circle cx="108.20" cy="305.90" r="0.65"/><circle cx="109.40" cy="313.00" r="0.65"/><circle cx="110.00" cy="326.60" r="0.65"/><circle cx="111.80" cy="324.20" r="0.65"/><circle cx="113.30" cy="334.70" r="0.65"/><circle cx="114.70" cy="344.80" r="0.65"/><circle cx="116.50" cy="350.10" r="0.65"/><circle cx="117.90" cy="357.20" r="0.65"/><circle cx="119.30" cy="365.00" r="0.65"/><circle cx="121.10" cy="367.80" r="0.65"/><circle cx="122.80" cy="376.30" r="0.65"/><circle cx="124.60" cy="369.60" r="0.65"/><circle cx="127.80" cy="375.60" r="0.65"/><circle cx="129.60" cy="373.50" r="0.65"/><circle cx="130.60" cy="369.30" r="0.65"/><circle cx="133.40" cy="371.40" r="0.65"/><circle cx="135.20" cy="367.10" r="0.65"/><circle cx="135.90" cy="361.10" r="0.65"/><circle cx="136.00" cy="350.70" r="0.65"/><circle cx="136.20" cy="337.10" r="0.65"/><circle cx="136.50" cy="327.20" r="0.65"/><circle cx="136.50" cy="311.80" r="0.65"/><circle cx="137.10" cy="298.90" r="0.65"/><circle cx="137.20" cy="263.60" r="0.65"/><circle cx="139.30" cy="257.80" r="0.65"/><circle cx="139.90" cy="254.30" r="0.65"/><circle cx="139.30" cy="259.40" r="0.65"/><circle cx="137.90" cy="272.10" r="0.65"/><circle cx="140.70" cy="273.50" r="0.65"/><circle cx="143.50" cy="280.60" r="0.65"/><circle cx="141.40" cy="284.20" r="0.65"/><circle cx="144.70" cy="284.90" r="0.65"/><circle cx="142.10" cy="293.40" r="0.65"/><circle cx="147.10" cy="291.20" r="0.65"/><circle cx="148.90" cy="296.90" r="0.65"/><circle cx="150.60" cy="303.20" r="0.65"/><circle cx="152.00" cy="304.70" r="0.65"/><circle cx="153.40" cy="308.90" r="0.65"/><circle cx="155.60" cy="312.90" r="0.65"/><circle cx="159.40" cy="314.40" r="0.65"/><circle cx="164.80" cy="314.60" r="0.65"/><circle cx="171.80" cy="312.40" r="0.65"/><circle cx="176.40" cy="310.90" r="0.65"/><circle cx="181.70" cy="310.30" r="0.65"/><circle cx="185.40" cy="310.90" r="0.65"/><circle cx="189.70" cy="311.70" r="0.65"/><circle cx="85.60" cy="270.70" r="0.65"/><circle cx="84.40" cy="274.80" r="0.65"/></g>
<rect x="139.3" y="327.3" width="50.9" height="62.2" fill="none" stroke="#bbb" stroke-width="0.7"/>
<line x1="139.30" y1="359.00" x2="190.20" y2="359.00" stroke="#bbb" stroke-width="0.7"/>
<line x1="147.00" y1="389.50" x2="147.00" y2="388.00" stroke="#999" stroke-width="0.6"/>
<line x1="147.00" y1="327.30" x2="147.00" y2="328.80" stroke="#999" stroke-width="0.6"/>
<line x1="158.60" y1="389.50" x2="158.60" y2="388.00" stroke="#999" stroke-width="0.6"/>
<line x1="158.60" y1="327.30" x2="158.60" y2="328.80" stroke="#999" stroke-width="0.6"/>
<line x1="171.00" y1="389.50" x2="171.00" y2="388.00" stroke="#999" stroke-width="0.6"/>
<line x1="171.00" y1="327.30" x2="171.00" y2="328.80" stroke="#999" stroke-width="0.6"/>
<line x1="182.90" y1="389.50" x2="182.90" y2="388.00" stroke="#999" stroke-width="0.6"/>
<line x1="182.90" y1="327.30" x2="182.90" y2="328.80" stroke="#999" stroke-width="0.6"/>
<line x1="190.20" y1="332.80" x2="188.70" y2="332.80" stroke="#999" stroke-width="0.6"/>
<line x1="190.20" y1="345.90" x2="188.70" y2="345.90" stroke="#999" stroke-width="0.6"/>
<line x1="190.20" y1="359.00" x2="188.70" y2="359.00" stroke="#999" stroke-width="0.6"/>
<line x1="190.20" y1="372.00" x2="188.70" y2="372.00" stroke="#999" stroke-width="0.6"/>
<line x1="190.20" y1="385.00" x2="188.70" y2="385.00" stroke="#999" stroke-width="0.6"/>
<line x1="144.30" y1="372.00" x2="144.30" y2="395.00" stroke="#e0a0a0" stroke-width="0.6"/>
<line x1="145.40" y1="333.00" x2="145.40" y2="358.00" stroke="#e0a0a0" stroke-width="0.6"/>
<line x1="150.00" y1="350.00" x2="150.00" y2="362.00" stroke="#e0a0a0" stroke-width="0.6"/>
<line x1="160.80" y1="346.00" x2="160.80" y2="357.00" stroke="#e0a0a0" stroke-width="0.6"/>
<line x1="175.60" y1="373.00" x2="175.60" y2="386.00" stroke="#e0a0a0" stroke-width="0.6"/>
<line x1="172.70" y1="364.00" x2="172.70" y2="377.00" stroke="#e0a0a0" stroke-width="0.6"/>
<line x1="178.90" y1="363.00" x2="178.90" y2="377.00" stroke="#e0a0a0" stroke-width="0.6"/>
<g fill="#a3201f" stroke="none" stroke-width="0"><circle cx="144.30" cy="384.60" r="1.75"/><circle cx="145.40" cy="346.60" r="1.75"/><circle cx="145.40" cy="352.40" r="1.75"/><circle cx="147.10" cy="352.40" r="1.75"/><circle cx="149.60" cy="356.50" r="1.75"/><circle cx="152.00" cy="361.50" r="1.75"/><circle cx="154.20" cy="361.50" r="1.75"/><circle cx="155.80" cy="361.50" r="1.75"/><circle cx="156.50" cy="352.40" r="1.75"/><circle cx="158.60" cy="347.50" r="1.75"/><circle cx="160.80" cy="351.60" r="1.75"/><circle cx="162.80" cy="354.90" r="1.75"/><circle cx="165.20" cy="356.50" r="1.75"/><circle cx="166.90" cy="356.50" r="1.75"/><circle cx="168.50" cy="356.50" r="1.75"/><circle cx="172.70" cy="370.60" r="1.75"/><circle cx="173.50" cy="368.90" r="1.75"/><circle cx="175.60" cy="379.60" r="1.75"/><circle cx="176.80" cy="378.80" r="1.75"/><circle cx="178.90" cy="370.60" r="1.75"/><circle cx="180.60" cy="366.40" r="1.75"/><circle cx="182.20" cy="364.00" r="1.75"/><circle cx="184.20" cy="361.50" r="1.75"/><circle cx="186.20" cy="361.50" r="1.75"/><circle cx="188.30" cy="363.10" r="1.75"/></g>
<g fill="#111" stroke="none" stroke-width="0"><circle cx="145.40" cy="362.30" r="1.75"/><circle cx="147.60" cy="359.00" r="1.75"/><circle cx="149.20" cy="364.00" r="1.75"/><circle cx="150.90" cy="368.90" r="1.75"/><circle cx="151.50" cy="370.60" r="1.75"/><circle cx="153.40" cy="372.00" r="1.75"/><circle cx="155.30" cy="373.00" r="1.75"/><circle cx="157.50" cy="379.60" r="1.75"/><circle cx="159.10" cy="379.60" r="1.75"/><circle cx="160.80" cy="375.50" r="1.75"/><circle cx="162.40" cy="371.40" r="1.75"/><circle cx="164.10" cy="366.40" r="1.75"/><circle cx="165.70" cy="364.30" r="1.75"/><circle cx="169.70" cy="356.50" r="1.75"/><circle cx="170.20" cy="353.20" r="1.75"/><circle cx="172.70" cy="346.10" r="1.75"/><circle cx="175.10" cy="338.40" r="1.75"/><circle cx="177.60" cy="340.90" r="1.75"/><circle cx="179.30" cy="343.30" r="1.75"/><circle cx="181.20" cy="346.10" r="1.75"/><circle cx="184.70" cy="354.00" r="1.75"/><circle cx="186.70" cy="354.00" r="1.75"/><circle cx="188.30" cy="356.50" r="1.75"/></g>
<g fill="#d88" stroke="none" stroke-width="0"><circle cx="143.80" cy="384.10" r="0.5"/><circle cx="144.90" cy="346.10" r="0.5"/><circle cx="144.90" cy="351.90" r="0.5"/><circle cx="146.60" cy="351.90" r="0.5"/><circle cx="149.10" cy="356.00" r="0.5"/><circle cx="151.50" cy="361.00" r="0.5"/><circle cx="153.70" cy="361.00" r="0.5"/><circle cx="155.30" cy="361.00" r="0.5"/><circle cx="156.00" cy="351.90" r="0.5"/><circle cx="158.10" cy="347.00" r="0.5"/><circle cx="160.30" cy="351.10" r="0.5"/><circle cx="162.30" cy="354.40" r="0.5"/><circle cx="164.70" cy="356.00" r="0.5"/><circle cx="166.40" cy="356.00" r="0.5"/><circle cx="168.00" cy="356.00" r="0.5"/><circle cx="172.20" cy="370.10" r="0.5"/><circle cx="173.00" cy="368.40" r="0.5"/><circle cx="175.10" cy="379.10" r="0.5"/><circle cx="176.30" cy="378.30" r="0.5"/><circle cx="178.40" cy="370.10" r="0.5"/><circle cx="180.10" cy="365.90" r="0.5"/><circle cx="181.70" cy="363.50" r="0.5"/><circle cx="183.70" cy="361.00" r="0.5"/><circle cx="185.70" cy="361.00" r="0.5"/><circle cx="187.80" cy="362.60" r="0.5"/></g>
<g fill="#777" stroke="none" stroke-width="0"><circle cx="144.90" cy="361.80" r="0.5"/><circle cx="147.10" cy="358.50" r="0.5"/><circle cx="148.70" cy="363.50" r="0.5"/><circle cx="150.40" cy="368.40" r="0.5"/><circle cx="151.00" cy="370.10" r="0.5"/><circle cx="152.90" cy="371.50" r="0.5"/><circle cx="154.80" cy="372.50" r="0.5"/><circle cx="157.00" cy="379.10" r="0.5"/><circle cx="158.60" cy="379.10" r="0.5"/><circle cx="160.30" cy="375.00" r="0.5"/><circle cx="161.90" cy="370.90" r="0.5"/><circle cx="163.60" cy="365.90" r="0.5"/><circle cx="165.20" cy="363.80" r="0.5"/><circle cx="169.20" cy="356.00" r="0.5"/><circle cx="169.70" cy="352.70" r="0.5"/><circle cx="172.20" cy="345.60" r="0.5"/><circle cx="174.60" cy="337.90" r="0.5"/><circle cx="177.10" cy="340.40" r="0.5"/><circle cx="178.80" cy="342.80" r="0.5"/><circle cx="180.70" cy="345.60" r="0.5"/><circle cx="184.20" cy="353.50" r="0.5"/><circle cx="186.20" cy="353.50" r="0.5"/><circle cx="187.80" cy="356.00" r="0.5"/></g>
<text x="155.80" y="334.50" font-size="6.3" text-anchor="start" fill="#222" font-weight="normal" font-style="normal" font-family='"Liberation Sans", sans-serif'>B<tspan font-size="4.5" dy="1">z</tspan><tspan dy="-1">&gt;0</tspan></text>
<text x="155.80" y="342.30" font-size="6.3" text-anchor="start" fill="#a3201f" font-weight="normal" font-style="normal" font-family='"Liberation Sans", sans-serif'>B<tspan font-size="4.5" dy="1">z</tspan><tspan dy="-1">&lt;0</tspan></text>
<text x="149.00" y="324.20" font-size="8.8" text-anchor="middle" fill="#1a1a1a" font-weight="normal" font-style="normal" font-family='"Liberation Sans", sans-serif'>0.6</text>
<text x="176.50" y="324.20" font-size="8.8" text-anchor="middle" fill="#1a1a1a" font-weight="normal" font-style="normal" font-family='"Liberation Sans", sans-serif'>0.9</text>
<text x="192.30" y="335.80" font-size="8.8" text-anchor="start" fill="#1a1a1a" font-weight="normal" font-style="normal" font-family='"Liberation Sans", sans-serif'>0.1</text>
<text x="192.30" y="362.00" font-size="8.8" text-anchor="start" fill="#1a1a1a" font-weight="normal" font-style="normal" font-family='"Liberation Sans", sans-serif'>0.0</text>
<text x="192.30" y="388.00" font-size="8.8" text-anchor="start" fill="#1a1a1a" font-weight="normal" font-style="normal" font-family='"Liberation Sans", sans-serif'>-0.1</text>
<g stroke-width="0.9" stroke-linecap="square"><line x1="29.40" y1="231.40" x2="190.70" y2="231.40" stroke="#3a3a3a"/><line x1="190.70" y1="231.40" x2="190.70" y2="395.70" stroke="#a8a8a8"/><line x1="29.40" y1="395.70" x2="190.70" y2="395.70" stroke="#3a3a3a"/><line x1="29.40" y1="231.40" x2="29.40" y2="395.70" stroke="#3a3a3a"/></g>
<line x1="37.51" y1="395.70" x2="37.51" y2="392.70" stroke="#3a3a3a" stroke-width="0.8"/>
<line x1="37.51" y1="231.40" x2="37.51" y2="234.40" stroke="#3a3a3a" stroke-width="0.8"/>
<line x1="49.61" y1="395.70" x2="49.61" y2="394.10" stroke="#3a3a3a" stroke-width="0.8"/>
<line x1="49.61" y1="231.40" x2="49.61" y2="233.00" stroke="#3a3a3a" stroke-width="0.8"/>
<line x1="61.71" y1="395.70" x2="61.71" y2="392.70" stroke="#3a3a3a" stroke-width="0.8"/>
<line x1="61.71" y1="231.40" x2="61.71" y2="234.40" stroke="#3a3a3a" stroke-width="0.8"/>
<line x1="73.81" y1="395.70" x2="73.81" y2="394.10" stroke="#3a3a3a" stroke-width="0.8"/>
<line x1="73.81" y1="231.40" x2="73.81" y2="233.00" stroke="#3a3a3a" stroke-width="0.8"/>
<line x1="85.91" y1="395.70" x2="85.91" y2="392.70" stroke="#3a3a3a" stroke-width="0.8"/>
<line x1="85.91" y1="231.40" x2="85.91" y2="234.40" stroke="#3a3a3a" stroke-width="0.8"/>
<line x1="98.00" y1="395.70" x2="98.00" y2="394.10" stroke="#3a3a3a" stroke-width="0.8"/>
<line x1="98.00" y1="231.40" x2="98.00" y2="233.00" stroke="#3a3a3a" stroke-width="0.8"/>
<line x1="110.10" y1="395.70" x2="110.10" y2="392.70" stroke="#3a3a3a" stroke-width="0.8"/>
<line x1="110.10" y1="231.40" x2="110.10" y2="234.40" stroke="#3a3a3a" stroke-width="0.8"/>
<line x1="122.20" y1="395.70" x2="122.20" y2="394.10" stroke="#3a3a3a" stroke-width="0.8"/>
<line x1="122.20" y1="231.40" x2="122.20" y2="233.00" stroke="#3a3a3a" stroke-width="0.8"/>
<line x1="134.29" y1="395.70" x2="134.29" y2="392.70" stroke="#3a3a3a" stroke-width="0.8"/>
<line x1="134.29" y1="231.40" x2="134.29" y2="234.40" stroke="#3a3a3a" stroke-width="0.8"/>
<line x1="146.39" y1="395.70" x2="146.39" y2="394.10" stroke="#3a3a3a" stroke-width="0.8"/>
<line x1="146.39" y1="231.40" x2="146.39" y2="233.00" stroke="#3a3a3a" stroke-width="0.8"/>
<line x1="158.49" y1="395.70" x2="158.49" y2="392.70" stroke="#3a3a3a" stroke-width="0.8"/>
<line x1="158.49" y1="231.40" x2="158.49" y2="234.40" stroke="#3a3a3a" stroke-width="0.8"/>
<line x1="170.59" y1="395.70" x2="170.59" y2="394.10" stroke="#3a3a3a" stroke-width="0.8"/>
<line x1="170.59" y1="231.40" x2="170.59" y2="233.00" stroke="#3a3a3a" stroke-width="0.8"/>
<line x1="182.69" y1="395.70" x2="182.69" y2="392.70" stroke="#3a3a3a" stroke-width="0.8"/>
<line x1="182.69" y1="231.40" x2="182.69" y2="234.40" stroke="#3a3a3a" stroke-width="0.8"/>
<line x1="29.40" y1="384.43" x2="31.00" y2="384.43" stroke="#3a3a3a" stroke-width="0.8"/>
<line x1="29.40" y1="370.20" x2="32.40" y2="370.20" stroke="#3a3a3a" stroke-width="0.8"/>
<line x1="29.40" y1="355.98" x2="31.00" y2="355.98" stroke="#3a3a3a" stroke-width="0.8"/>
<line x1="29.40" y1="341.75" x2="32.40" y2="341.75" stroke="#3a3a3a" stroke-width="0.8"/>
<line x1="29.40" y1="327.53" x2="31.00" y2="327.53" stroke="#3a3a3a" stroke-width="0.8"/>
<line x1="29.40" y1="313.30" x2="32.40" y2="313.30" stroke="#3a3a3a" stroke-width="0.8"/>
<line x1="29.40" y1="299.07" x2="31.00" y2="299.07" stroke="#3a3a3a" stroke-width="0.8"/>
<line x1="29.40" y1="284.85" x2="32.40" y2="284.85" stroke="#3a3a3a" stroke-width="0.8"/>
<line x1="29.40" y1="270.62" x2="31.00" y2="270.62" stroke="#3a3a3a" stroke-width="0.8"/>
<line x1="29.40" y1="256.40" x2="32.40" y2="256.40" stroke="#3a3a3a" stroke-width="0.8"/>
<line x1="29.40" y1="242.18" x2="31.00" y2="242.18" stroke="#3a3a3a" stroke-width="0.8"/>
<text x="37.51" y="406.20" font-size="8.8" text-anchor="middle" fill="#1a1a1a" font-weight="normal" font-style="normal" font-family='"Liberation Sans", sans-serif'>-0.9</text>
<text x="61.71" y="406.20" font-size="8.8" text-anchor="middle" fill="#1a1a1a" font-weight="normal" font-style="normal" font-family='"Liberation Sans", sans-serif'>-0.6</text>
<text x="85.91" y="406.20" font-size="8.8" text-anchor="middle" fill="#1a1a1a" font-weight="normal" font-style="normal" font-family='"Liberation Sans", sans-serif'>-0.3</text>
<text x="110.10" y="406.20" font-size="8.8" text-anchor="middle" fill="#1a1a1a" font-weight="normal" font-style="normal" font-family='"Liberation Sans", sans-serif'>0.0</text>
<text x="134.29" y="406.20" font-size="8.8" text-anchor="middle" fill="#1a1a1a" font-weight="normal" font-style="normal" font-family='"Liberation Sans", sans-serif'>0.3</text>
<text x="158.49" y="406.20" font-size="8.8" text-anchor="middle" fill="#1a1a1a" font-weight="normal" font-style="normal" font-family='"Liberation Sans", sans-serif'>0.6</text>
<text x="182.69" y="406.20" font-size="8.8" text-anchor="middle" fill="#1a1a1a" font-weight="normal" font-style="normal" font-family='"Liberation Sans", sans-serif'>0.9</text>
<text x="26.20" y="373.30" font-size="8.8" text-anchor="end" fill="#1a1a1a" font-weight="normal" font-style="normal" font-family='"Liberation Sans", sans-serif'>-2</text>
<text x="26.20" y="344.85" font-size="8.8" text-anchor="end" fill="#1a1a1a" font-weight="normal" font-style="normal" font-family='"Liberation Sans", sans-serif'>-1</text>
<text x="26.20" y="316.40" font-size="8.8" text-anchor="end" fill="#1a1a1a" font-weight="normal" font-style="normal" font-family='"Liberation Sans", sans-serif'>0</text>
<text x="26.20" y="287.95" font-size="8.8" text-anchor="end" fill="#1a1a1a" font-weight="normal" font-style="normal" font-family='"Liberation Sans", sans-serif'>1</text>
<text x="26.20" y="259.50" font-size="8.8" text-anchor="end" fill="#1a1a1a" font-weight="normal" font-style="normal" font-family='"Liberation Sans", sans-serif'>2</text>
<text x="111.20" y="419.90" font-size="11" text-anchor="middle" fill="#1a1a1a" font-weight="normal" font-style="normal" font-family='"Liberation Sans", sans-serif'><tspan font-style="italic">B</tspan><tspan font-size="7.7" dy="2.4">z</tspan><tspan dy="-2.4"> (T)</tspan></text>
<text x="13.80" y="312.00" font-size="11.2" text-anchor="middle" fill="#1a1a1a" font-weight="normal" font-style="normal" font-family='"Liberation Sans", sans-serif' transform="rotate(-90 13.80 312.00)"><tspan font-style="italic">Δ I</tspan><tspan font-size="8" dy="1.8">sw</tspan><tspan dy="-1.8"> (μA)</tspan></text>
<text x="145.00" y="244.80" font-size="8.8" text-anchor="start" fill="#1a1a1a" font-weight="normal" font-style="normal" font-family='"Liberation Sans", sans-serif'>T = 0.05 K</text>
<text x="46.00" y="385.60" font-size="11.5" text-anchor="start" fill="#f01818" font-weight="normal" font-style="normal" font-family='"Liberation Sans", sans-serif'>B</text>
<text x="55.60" y="388.30" font-size="7.6" text-anchor="start" fill="#f01818" font-weight="normal" font-style="normal" font-family='"Liberation Sans", sans-serif'>max</text>
<text x="85.80" y="385.60" font-size="11.5" text-anchor="start" fill="#111" font-weight="normal" font-style="normal" font-family='"Liberation Sans", sans-serif'>B</text>
<text x="95.30" y="388.30" font-size="7.6" text-anchor="start" fill="#111" font-weight="normal" font-style="normal" font-family='"Liberation Sans", sans-serif'>R</text>
<polyline points="266.70,56.60 407.50,56.60" stroke="#ef7f2a" stroke-width="1.8" fill="none" stroke-linejoin="round" stroke-linecap="round"/>
<polyline points="407.50,56.50 407.50,88.00" stroke="#ef7f2a" stroke-width="0.9" fill="none" stroke-linejoin="round" stroke-linecap="round"/>
<polyline points="292.80,58.20 301.20,62.90 312.80,67.80 337.50,74.40 358.00,77.70 422.40,92.80" stroke="#ef7f2a" stroke-width="2.0" fill="none" stroke-linejoin="round" stroke-linecap="round"/>
<polyline points="266.70,56.60 397.30,56.60" stroke="#1ecb8c" stroke-width="1.8" fill="none" stroke-linejoin="round" stroke-linecap="round"/>
<polyline points="397.30,56.50 397.30,27.50" stroke="#1ecb8c" stroke-width="0.9" fill="none" stroke-linejoin="round" stroke-linecap="round"/>
<polyline points="292.80,56.60 294.60,53.80 301.20,51.30 312.80,47.20 321.00,44.70 337.50,40.60 358.00,36.10 422.40,20.20" stroke="#1ecb8c" stroke-width="2.0" fill="none" stroke-linejoin="round" stroke-linecap="round"/>
<line x1="408.00" y1="19.60" x2="395.04" y2="23.26" stroke="#1ecb8c" stroke-width="0.8"/>
<path d="M391.00,24.40 L394.58,21.62 L395.50,24.89 Z" fill="#1ecb8c"/>
<line x1="344.20" y1="53.10" x2="356.00" y2="53.10" stroke="#1ecb8c" stroke-width="0.8"/>
<path d="M360.20,53.10 L356.00,54.80 L356.00,51.40 Z" fill="#1ecb8c"/>
<line x1="344.20" y1="62.00" x2="356.00" y2="62.00" stroke="#ef7f2a" stroke-width="0.8"/>
<path d="M360.20,62.00 L356.00,63.70 L356.00,60.30 Z" fill="#ef7f2a"/>
<line x1="408.00" y1="95.00" x2="395.07" y2="91.73" stroke="#ef7f2a" stroke-width="0.8"/>
<path d="M391.00,90.70 L395.49,90.08 L394.65,93.38 Z" fill="#ef7f2a"/>
<polyline points="266.70,140.40 344.10,140.40" stroke="#ef7f2a" stroke-width="1.8" fill="none" stroke-linejoin="round" stroke-linecap="round"/>
<polyline points="344.10,140.40 344.10,156.50" stroke="#ef7f2a" stroke-width="0.9" fill="none" stroke-linejoin="round" stroke-linecap="round"/>
<polyline points="293.00,142.10 301.20,146.20 312.80,149.50 329.30,153.60 344.10,156.90 358.00,161.90 422.40,176.70" stroke="#ef7f2a" stroke-width="2.0" fill="none" stroke-linejoin="round" stroke-linecap="round"/>
<polyline points="344.10,140.40 356.50,140.40" stroke="#1ecb8c" stroke-width="1.8" fill="none" stroke-linejoin="round" stroke-linecap="round"/>
<polyline points="356.50,140.40 356.50,120.00" stroke="#1ecb8c" stroke-width="0.9" fill="none" stroke-linejoin="round" stroke-linecap="round"/>
<polyline points="293.00,138.80 296.30,137.10 304.50,133.80 312.80,130.50 329.30,126.40 344.10,123.10 358.00,119.50 422.40,104.60" stroke="#1ecb8c" stroke-width="2.0" fill="none" stroke-linejoin="round" stroke-linecap="round"/>
<line x1="358.00" y1="115.20" x2="348.23" y2="117.03" stroke="#1ecb8c" stroke-width="0.8"/>
<path d="M344.10,117.80 L347.92,115.36 L348.54,118.70 Z" fill="#1ecb8c"/>
<line x1="333.40" y1="136.00" x2="344.80" y2="136.00" stroke="#1ecb8c" stroke-width="0.8"/>
<path d="M349.00,136.00 L344.80,137.70 L344.80,134.30 Z" fill="#1ecb8c"/>
<line x1="324.30" y1="146.50" x2="335.80" y2="146.50" stroke="#ef7f2a" stroke-width="0.8"/>
<path d="M340.00,146.50 L335.80,148.20 L335.80,144.80 Z" fill="#ef7f2a"/>
<line x1="358.00" y1="168.50" x2="349.07" y2="166.23" stroke="#ef7f2a" stroke-width="0.8"/>
<path d="M345.00,165.20 L349.49,164.59 L348.65,167.88 Z" fill="#ef7f2a"/>
<g stroke-width="0.9" stroke-linecap="square"><line x1="258.60" y1="14.40" x2="422.50" y2="14.40" stroke="#a8a8a8"/><line x1="422.50" y1="14.40" x2="422.50" y2="98.60" stroke="#a8a8a8"/><line x1="258.60" y1="98.60" x2="422.50" y2="98.60" stroke="#7a7a7a"/><line x1="258.60" y1="14.40" x2="258.60" y2="98.60" stroke="#a8a8a8"/></g>
<g stroke-width="0.9" stroke-linecap="square"><line x1="258.60" y1="98.60" x2="422.50" y2="98.60" stroke="#7a7a7a"/><line x1="422.50" y1="98.60" x2="422.50" y2="182.50" stroke="#a8a8a8"/><line x1="258.60" y1="182.50" x2="422.50" y2="182.50" stroke="#3a3a3a"/><line x1="258.60" y1="98.60" x2="258.60" y2="182.50" stroke="#a8a8a8"/></g>
<line x1="267.40" y1="98.60" x2="267.40" y2="96.10" stroke="#3a3a3a" stroke-width="0.8"/>
<line x1="267.40" y1="14.40" x2="267.40" y2="16.90" stroke="#3a3a3a" stroke-width="0.8"/>
<line x1="288.90" y1="98.60" x2="288.90" y2="97.10" stroke="#3a3a3a" stroke-width="0.8"/>
<line x1="288.90" y1="14.40" x2="288.90" y2="15.90" stroke="#3a3a3a" stroke-width="0.8"/>
<line x1="310.40" y1="98.60" x2="310.40" y2="96.10" stroke="#3a3a3a" stroke-width="0.8"/>
<line x1="310.40" y1="14.40" x2="310.40" y2="16.90" stroke="#3a3a3a" stroke-width="0.8"/>
<line x1="331.90" y1="98.60" x2="331.90" y2="97.10" stroke="#3a3a3a" stroke-width="0.8"/>
<line x1="331.90" y1="14.40" x2="331.90" y2="15.90" stroke="#3a3a3a" stroke-width="0.8"/>
<line x1="353.40" y1="98.60" x2="353.40" y2="96.10" stroke="#3a3a3a" stroke-width="0.8"/>
<line x1="353.40" y1="14.40" x2="353.40" y2="16.90" stroke="#3a3a3a" stroke-width="0.8"/>
<line x1="374.90" y1="98.60" x2="374.90" y2="97.10" stroke="#3a3a3a" stroke-width="0.8"/>
<line x1="374.90" y1="14.40" x2="374.90" y2="15.90" stroke="#3a3a3a" stroke-width="0.8"/>
<line x1="396.40" y1="98.60" x2="396.40" y2="96.10" stroke="#3a3a3a" stroke-width="0.8"/>
<line x1="396.40" y1="14.40" x2="396.40" y2="16.90" stroke="#3a3a3a" stroke-width="0.8"/>
<line x1="417.90" y1="98.60" x2="417.90" y2="97.10" stroke="#3a3a3a" stroke-width="0.8"/>
<line x1="417.90" y1="14.40" x2="417.90" y2="15.90" stroke="#3a3a3a" stroke-width="0.8"/>
<line x1="267.40" y1="182.50" x2="267.40" y2="180.00" stroke="#3a3a3a" stroke-width="0.8"/>
<line x1="267.40" y1="98.60" x2="267.40" y2="101.10" stroke="#3a3a3a" stroke-width="0.8"/>
<line x1="288.90" y1="182.50" x2="288.90" y2="181.00" stroke="#3a3a3a" stroke-width="0.8"/>
<line x1="288.90" y1="98.60" x2="288.90" y2="100.10" stroke="#3a3a3a" stroke-width="0.8"/>
<line x1="310.40" y1="182.50" x2="310.40" y2="180.00" stroke="#3a3a3a" stroke-width="0.8"/>
<line x1="310.40" y1="98.60" x2="310.40" y2="101.10" stroke="#3a3a3a" stroke-width="0.8"/>
<line x1="331.90" y1="182.50" x2="331.90" y2="181.00" stroke="#3a3a3a" stroke-width="0.8"/>
<line x1="331.90" y1="98.60" x2="331.90" y2="100.10" stroke="#3a3a3a" stroke-width="0.8"/>
<line x1="353.40" y1="182.50" x2="353.40" y2="180.00" stroke="#3a3a3a" stroke-width="0.8"/>
<line x1="353.40" y1="98.60" x2="353.40" y2="101.10" stroke="#3a3a3a" stroke-width="0.8"/>
<line x1="374.90" y1="182.50" x2="374.90" y2="181.00" stroke="#3a3a3a" stroke-width="0.8"/>
<line x1="374.90" y1="98.60" x2="374.90" y2="100.10" stroke="#3a3a3a" stroke-width="0.8"/>
<line x1="396.40" y1="182.50" x2="396.40" y2="180.00" stroke="#3a3a3a" stroke-width="0.8"/>
<line x1="396.40" y1="98.60" x2="396.40" y2="101.10" stroke="#3a3a3a" stroke-width="0.8"/>
<line x1="417.90" y1="182.50" x2="417.90" y2="181.00" stroke="#3a3a3a" stroke-width="0.8"/>
<line x1="417.90" y1="98.60" x2="417.90" y2="100.10" stroke="#3a3a3a" stroke-width="0.8"/>
<line x1="258.60" y1="91.35" x2="261.10" y2="91.35" stroke="#3a3a3a" stroke-width="0.8"/>
<line x1="422.50" y1="91.35" x2="420.00" y2="91.35" stroke="#3a3a3a" stroke-width="0.8"/>
<line x1="258.60" y1="73.97" x2="260.10" y2="73.97" stroke="#3a3a3a" stroke-width="0.8"/>
<line x1="422.50" y1="73.97" x2="421.00" y2="73.97" stroke="#3a3a3a" stroke-width="0.8"/>
<line x1="258.60" y1="56.60" x2="261.10" y2="56.60" stroke="#3a3a3a" stroke-width="0.8"/>
<line x1="422.50" y1="56.60" x2="420.00" y2="56.60" stroke="#3a3a3a" stroke-width="0.8"/>
<line x1="258.60" y1="39.23" x2="260.10" y2="39.23" stroke="#3a3a3a" stroke-width="0.8"/>
<line x1="422.50" y1="39.23" x2="421.00" y2="39.23" stroke="#3a3a3a" stroke-width="0.8"/>
<line x1="258.60" y1="21.85" x2="261.10" y2="21.85" stroke="#3a3a3a" stroke-width="0.8"/>
<line x1="422.50" y1="21.85" x2="420.00" y2="21.85" stroke="#3a3a3a" stroke-width="0.8"/>
<line x1="258.60" y1="175.05" x2="261.10" y2="175.05" stroke="#3a3a3a" stroke-width="0.8"/>
<line x1="422.50" y1="175.05" x2="420.00" y2="175.05" stroke="#3a3a3a" stroke-width="0.8"/>
<line x1="258.60" y1="157.68" x2="260.10" y2="157.68" stroke="#3a3a3a" stroke-width="0.8"/>
<line x1="422.50" y1="157.68" x2="421.00" y2="157.68" stroke="#3a3a3a" stroke-width="0.8"/>
<line x1="258.60" y1="140.30" x2="261.10" y2="140.30" stroke="#3a3a3a" stroke-width="0.8"/>
<line x1="422.50" y1="140.30" x2="420.00" y2="140.30" stroke="#3a3a3a" stroke-width="0.8"/>
<line x1="258.60" y1="122.93" x2="260.10" y2="122.93" stroke="#3a3a3a" stroke-width="0.8"/>
<line x1="422.50" y1="122.93" x2="421.00" y2="122.93" stroke="#3a3a3a" stroke-width="0.8"/>
<line x1="258.60" y1="105.55" x2="261.10" y2="105.55" stroke="#3a3a3a" stroke-width="0.8"/>
<line x1="422.50" y1="105.55" x2="420.00" y2="105.55" stroke="#3a3a3a" stroke-width="0.8"/>
<text x="254.50" y="24.95" font-size="8.8" text-anchor="end" fill="#1a1a1a" font-weight="normal" font-style="normal" font-family='"Liberation Sans", sans-serif'>5</text>
<text x="254.50" y="108.65" font-size="8.8" text-anchor="end" fill="#1a1a1a" font-weight="normal" font-style="normal" font-family='"Liberation Sans", sans-serif'>5</text>
<text x="254.50" y="59.70" font-size="8.8" text-anchor="end" fill="#1a1a1a" font-weight="normal" font-style="normal" font-family='"Liberation Sans", sans-serif'>0</text>
<text x="254.50" y="143.40" font-size="8.8" text-anchor="end" fill="#1a1a1a" font-weight="normal" font-style="normal" font-family='"Liberation Sans", sans-serif'>0</text>
<text x="254.50" y="94.45" font-size="8.8" text-anchor="end" fill="#1a1a1a" font-weight="normal" font-style="normal" font-family='"Liberation Sans", sans-serif'>-5</text>
<text x="254.50" y="178.15" font-size="8.8" text-anchor="end" fill="#1a1a1a" font-weight="normal" font-style="normal" font-family='"Liberation Sans", sans-serif'>-5</text>
<text x="267.40" y="191.50" font-size="8.8" text-anchor="middle" fill="#1a1a1a" font-weight="normal" font-style="normal" font-family='"Liberation Sans", sans-serif'>0</text>
<text x="310.40" y="191.50" font-size="8.8" text-anchor="middle" fill="#1a1a1a" font-weight="normal" font-style="normal" font-family='"Liberation Sans", sans-serif'>5</text>
<text x="353.40" y="191.50" font-size="8.8" text-anchor="middle" fill="#1a1a1a" font-weight="normal" font-style="normal" font-family='"Liberation Sans", sans-serif'>10</text>
<text x="396.40" y="191.50" font-size="8.8" text-anchor="middle" fill="#1a1a1a" font-weight="normal" font-style="normal" font-family='"Liberation Sans", sans-serif'>15</text>
<text x="240.50" y="101.50" font-size="11.3" text-anchor="middle" fill="#1a1a1a" font-weight="normal" font-style="normal" font-family='"Liberation Sans", sans-serif' transform="rotate(-90 240.50 101.50)">V (mV)</text>
<text x="340.80" y="207.30" font-size="10.8" text-anchor="middle" fill="#1a1a1a" font-weight="normal" font-style="normal" font-family='"Liberation Sans", sans-serif'>| <tspan font-style="italic">I</tspan> | (μA)</text>
<text x="288.80" y="25.90" font-size="8.6" text-anchor="start" fill="#1a1a1a" font-weight="normal" font-style="normal" font-family='"Liberation Sans", sans-serif' letter-spacing="-0.3">B = 0.30 T</text>
<text x="288.80" y="110.30" font-size="8.6" text-anchor="start" fill="#1a1a1a" font-weight="normal" font-style="normal" font-family='"Liberation Sans", sans-serif' letter-spacing="-0.3">B = 0.35 T</text>
<text x="371.90" y="51.40" font-family='"Liberation Serif", serif' font-style="italic" font-size="13" fill="#1ecb8c">I</text>
<text x="376.10" y="54.00" font-family='"Liberation Serif", serif' font-style="normal" font-size="12.3" fill="#1ecb8c">sw</text>
<text x="377.50" y="47.90" font-family='"Liberation Sans", sans-serif' font-size="10" fill="#1ecb8c">+</text>
<text x="366.90" y="74.20" font-family='"Liberation Sans", sans-serif' font-size="13" fill="#ef7f2a">|</text>
<text x="373.40" y="73.20" font-family='"Liberation Serif", serif' font-style="italic" font-size="13" fill="#ef7f2a">I</text>
<text x="377.60" y="75.80" font-family='"Liberation Serif", serif' font-style="normal" font-size="12.3" fill="#ef7f2a">sw</text>
<text x="379.00" y="69.70" font-family='"Liberation Sans", sans-serif' font-size="10" fill="#ef7f2a">−</text>
<text x="391.80" y="74.20" font-family='"Liberation Sans", sans-serif' font-size="13" fill="#ef7f2a">|</text>
<text x="274.30" y="93.00" font-family='"Liberation Serif", serif' font-style="italic" font-size="13" fill="#1ecb8c">I</text>
<text x="278.50" y="95.60" font-family='"Liberation Serif", serif' font-style="normal" font-size="12.3" fill="#1ecb8c">sw</text>
<text x="279.90" y="89.50" font-family='"Liberation Sans", sans-serif' font-size="10" fill="#1ecb8c">+</text>
<text x="291.20" y="92.20" font-size="11" text-anchor="start" fill="#111" font-weight="normal" font-style="normal" font-family='"Liberation Sans", sans-serif'>&lt;</text>
<text x="299.40" y="93.50" font-family='"Liberation Sans", sans-serif' font-size="13" fill="#ef7f2a">|</text>
<text x="306.30" y="93.00" font-family='"Liberation Serif", serif' font-style="italic" font-size="13" fill="#ef7f2a">I</text>
<text x="310.50" y="95.60" font-family='"Liberation Serif", serif' font-style="normal" font-size="12.3" fill="#ef7f2a">sw</text>
<text x="311.90" y="89.50" font-family='"Liberation Sans", sans-serif' font-size="10" fill="#ef7f2a">−</text>
<text x="325.20" y="93.50" font-family='"Liberation Sans", sans-serif' font-size="13" fill="#ef7f2a">|</text>
<text x="366.80" y="135.90" font-family='"Liberation Serif", serif' font-style="italic" font-size="13" fill="#1ecb8c">I</text>
<text x="371.00" y="138.50" font-family='"Liberation Serif", serif' font-style="normal" font-size="12.3" fill="#1ecb8c">sw</text>
<text x="372.40" y="132.40" font-family='"Liberation Sans", sans-serif' font-size="10" fill="#1ecb8c">+</text>
<text x="363.40" y="158.20" font-family='"Liberation Sans", sans-serif' font-size="13" fill="#ef7f2a">|</text>
<text x="370.00" y="157.20" font-family='"Liberation Serif", serif' font-style="italic" font-size="13" fill="#ef7f2a">I</text>
<text x="374.20" y="159.80" font-family='"Liberation Serif", serif' font-style="normal" font-size="12.3" fill="#ef7f2a">sw</text>
<text x="375.60" y="153.70" font-family='"Liberation Sans", sans-serif' font-size="10" fill="#ef7f2a">−</text>
<text x="388.40" y="158.20" font-family='"Liberation Sans", sans-serif' font-size="13" fill="#ef7f2a">|</text>
<text x="273.00" y="173.80" font-family='"Liberation Serif", serif' font-style="italic" font-size="13" fill="#1ecb8c">I</text>
<text x="277.20" y="176.40" font-family='"Liberation Serif", serif' font-style="normal" font-size="12.3" fill="#1ecb8c">sw</text>
<text x="278.60" y="170.30" font-family='"Liberation Sans", sans-serif' font-size="10" fill="#1ecb8c">+</text>
<text x="289.80" y="173.20" font-size="11" text-anchor="start" fill="#111" font-weight="normal" font-style="normal" font-family='"Liberation Sans", sans-serif'>&gt;</text>
<text x="297.60" y="173.60" font-family='"Liberation Sans", sans-serif' font-size="13" fill="#ef7f2a">|</text>
<text x="304.60" y="173.80" font-family='"Liberation Serif", serif' font-style="italic" font-size="13" fill="#ef7f2a">I</text>
<text x="308.80" y="176.40" font-family='"Liberation Serif", serif' font-style="normal" font-size="12.3" fill="#ef7f2a">sw</text>
<text x="310.20" y="170.30" font-family='"Liberation Sans", sans-serif' font-size="10" fill="#ef7f2a">−</text>
<text x="323.30" y="173.60" font-family='"Liberation Sans", sans-serif' font-size="13" fill="#ef7f2a">|</text>
<defs><linearGradient id="hr0" gradientUnits="userSpaceOnUse" x1="266.1" y1="0" x2="415.3" y2="0"><stop offset="-0.0007" stop-color="rgb(255,255,255)"/><stop offset="0.9980" stop-color="rgb(255,255,255)"/></linearGradient><linearGradient id="hr1" gradientUnits="userSpaceOnUse" x1="266.1" y1="0" x2="415.3" y2="0"><stop offset="-0.0007" stop-color="rgb(255,255,255)"/><stop offset="0.2942" stop-color="rgb(255,255,255)"/><stop offset="0.3043" stop-color="rgb(212,212,255)"/><stop offset="0.3345" stop-color="rgb(212,212,255)"/><stop offset="0.3646" stop-color="rgb(230,230,255)"/><stop offset="0.3747" stop-color="rgb(246,246,255)"/><stop offset="0.4249" stop-color="rgb(246,246,255)"/><stop offset="0.4316" stop-color="rgb(221,221,255)"/><stop offset="0.4645" stop-color="rgb(221,221,255)"/><stop offset="0.4718" stop-color="rgb(250,250,255)"/><stop offset="0.5054" stop-color="rgb(238,238,255)"/><stop offset="0.5275" stop-color="rgb(243,243,255)"/><stop offset="0.5422" stop-color="rgb(255,255,255)"/><stop offset="0.5938" stop-color="rgb(255,246,246)"/><stop offset="0.6160" stop-color="rgb(255,221,221)"/><stop offset="0.6629" stop-color="rgb(255,212,212)"/><stop offset="0.6964" stop-color="rgb(255,221,221)"/><stop offset="0.7406" stop-color="rgb(255,235,235)"/><stop offset="0.7634" stop-color="rgb(255,255,255)"/><stop offset="0.9980" stop-color="rgb(255,255,255)"/></linearGradient><linearGradient id="hr2" gradientUnits="userSpaceOnUse" x1="266.1" y1="0" x2="415.3" y2="0"><stop offset="-0.0007" stop-color="rgb(255,255,255)"/><stop offset="0.1602" stop-color="rgb(255,255,255)"/><stop offset="0.1830" stop-color="rgb(230,230,255)"/><stop offset="0.2272" stop-color="rgb(187,187,255)"/><stop offset="0.2406" stop-color="rgb(153,153,255)"/><stop offset="0.2808" stop-color="rgb(136,136,255)"/><stop offset="0.3143" stop-color="rgb(153,153,255)"/><stop offset="0.3479" stop-color="rgb(204,204,255)"/><stop offset="0.3948" stop-color="rgb(221,221,255)"/><stop offset="0.4484" stop-color="rgb(235,235,255)"/><stop offset="0.4819" stop-color="rgb(250,250,255)"/><stop offset="0.5422" stop-color="rgb(255,246,246)"/><stop offset="0.5958" stop-color="rgb(255,221,221)"/><stop offset="0.6428" stop-color="rgb(255,187,187)"/><stop offset="0.6696" stop-color="rgb(255,153,153)"/><stop offset="0.7098" stop-color="rgb(255,136,136)"/><stop offset="0.7480" stop-color="rgb(255,144,144)"/><stop offset="0.7768" stop-color="rgb(255,204,204)"/><stop offset="0.7969" stop-color="rgb(255,238,238)"/><stop offset="0.8304" stop-color="rgb(255,255,255)"/><stop offset="0.9980" stop-color="rgb(255,255,255)"/></linearGradient><linearGradient id="hr3" gradientUnits="userSpaceOnUse" x1="266.1" y1="0" x2="415.3" y2="0"><stop offset="-0.0007" stop-color="rgb(255,255,255)"/><stop offset="0.1468" stop-color="rgb(255,250,250)"/><stop offset="0.1602" stop-color="rgb(238,238,255)"/><stop offset="0.2051" stop-color="rgb(221,221,255)"/><stop offset="0.2607" stop-color="rgb(153,153,255)"/><stop offset="0.2942" stop-color="rgb(119,119,255)"/><stop offset="0.3371" stop-color="rgb(136,136,255)"/><stop offset="0.3613" stop-color="rgb(187,187,255)"/><stop offset="0.4015" stop-color="rgb(212,212,255)"/><stop offset="0.4551" stop-color="rgb(238,238,255)"/><stop offset="0.4953" stop-color="rgb(255,255,255)"/><stop offset="0.5556" stop-color="rgb(255,246,246)"/><stop offset="0.5958" stop-color="rgb(255,221,221)"/><stop offset="0.6428" stop-color="rgb(255,170,170)"/><stop offset="0.6830" stop-color="rgb(255,119,119)"/><stop offset="0.7232" stop-color="rgb(255,119,119)"/><stop offset="0.7500" stop-color="rgb(255,153,153)"/><stop offset="0.7969" stop-color="rgb(255,212,212)"/><stop offset="0.8505" stop-color="rgb(255,246,246)"/><stop offset="0.9980" stop-color="rgb(255,255,255)"/></linearGradient><linearGradient id="hr4" gradientUnits="userSpaceOnUse" x1="266.1" y1="0" x2="415.3" y2="0"><stop offset="-0.0007" stop-color="rgb(221,221,255)"/><stop offset="0.0509" stop-color="rgb(230,230,255)"/><stop offset="0.0664" stop-color="rgb(255,255,255)"/><stop offset="0.0932" stop-color="rgb(255,246,246)"/><stop offset="0.1602" stop-color="rgb(255,246,246)"/><stop offset="0.2192" stop-color="rgb(221,221,255)"/><stop offset="0.2473" stop-color="rgb(170,170,255)"/><stop offset="0.2808" stop-color="rgb(85,85,255)"/><stop offset="0.3076" stop-color="rgb(68,68,255)"/><stop offset="0.3371" stop-color="rgb(136,136,255)"/><stop offset="0.3613" stop-color="rgb(187,187,255)"/><stop offset="0.3948" stop-color="rgb(221,221,255)"/><stop offset="0.4283" stop-color="rgb(255,255,255)"/><stop offset="0.4953" stop-color="rgb(255,255,255)"/><stop offset="0.5717" stop-color="rgb(255,238,238)"/><stop offset="0.6160" stop-color="rgb(255,204,204)"/><stop offset="0.6595" stop-color="rgb(255,119,119)"/><stop offset="0.6964" stop-color="rgb(255,68,68)"/><stop offset="0.7232" stop-color="rgb(255,85,85)"/><stop offset="0.7480" stop-color="rgb(255,136,136)"/><stop offset="0.7768" stop-color="rgb(255,221,221)"/><stop offset="0.8304" stop-color="rgb(255,255,255)"/><stop offset="0.8371" stop-color="rgb(230,230,255)"/><stop offset="0.8639" stop-color="rgb(230,230,255)"/><stop offset="0.8840" stop-color="rgb(255,255,255)"/><stop offset="0.9243" stop-color="rgb(255,230,230)"/><stop offset="0.9980" stop-color="rgb(255,230,230)"/></linearGradient><linearGradient id="hr5" gradientUnits="userSpaceOnUse" x1="266.1" y1="0" x2="415.3" y2="0"><stop offset="-0.0007" stop-color="rgb(255,255,255)"/><stop offset="0.1133" stop-color="rgb(255,238,238)"/><stop offset="0.2004" stop-color="rgb(255,246,246)"/><stop offset="0.2205" stop-color="rgb(221,221,255)"/><stop offset="0.2607" stop-color="rgb(136,136,255)"/><stop offset="0.2942" stop-color="rgb(85,85,255)"/><stop offset="0.3345" stop-color="rgb(136,136,255)"/><stop offset="0.3613" stop-color="rgb(204,204,255)"/><stop offset="0.3948" stop-color="rgb(255,255,255)"/><stop offset="0.4283" stop-color="rgb(255,238,238)"/><stop offset="0.4819" stop-color="rgb(255,246,246)"/><stop offset="0.5422" stop-color="rgb(230,230,255)"/><stop offset="0.6160" stop-color="rgb(238,238,255)"/><stop offset="0.6428" stop-color="rgb(255,221,221)"/><stop offset="0.6763" stop-color="rgb(255,119,119)"/><stop offset="0.7098" stop-color="rgb(255,68,68)"/><stop offset="0.7433" stop-color="rgb(255,102,102)"/><stop offset="0.7768" stop-color="rgb(255,204,204)"/><stop offset="0.8036" stop-color="rgb(255,255,255)"/><stop offset="0.8237" stop-color="rgb(230,230,255)"/><stop offset="0.8773" stop-color="rgb(230,230,255)"/><stop offset="0.9109" stop-color="rgb(255,255,255)"/><stop offset="0.9980" stop-color="rgb(255,255,255)"/></linearGradient><linearGradient id="hr6" gradientUnits="userSpaceOnUse" x1="266.1" y1="0" x2="415.3" y2="0"><stop offset="-0.0007" stop-color="rgb(221,221,255)"/><stop offset="0.0395" stop-color="rgb(238,238,255)"/><stop offset="0.0932" stop-color="rgb(255,255,255)"/><stop offset="0.2004" stop-color="rgb(255,255,255)"/><stop offset="0.2272" stop-color="rgb(204,204,255)"/><stop offset="0.2540" stop-color="rgb(119,119,255)"/><stop offset="0.2942" stop-color="rgb(34,34,255)"/><stop offset="0.3277" stop-color="rgb(85,85,255)"/><stop offset="0.3479" stop-color="rgb(204,204,255)"/><stop offset="0.3814" stop-color="rgb(255,255,255)"/><stop offset="0.4149" stop-color="rgb(255,230,230)"/><stop offset="0.4685" stop-color="rgb(255,230,230)"/><stop offset="0.5422" stop-color="rgb(230,230,255)"/><stop offset="0.6160" stop-color="rgb(221,221,255)"/><stop offset="0.6428" stop-color="rgb(255,255,255)"/><stop offset="0.6743" stop-color="rgb(255,119,119)"/><stop offset="0.7098" stop-color="rgb(255,51,51)"/><stop offset="0.7332" stop-color="rgb(255,85,85)"/><stop offset="0.7768" stop-color="rgb(255,204,204)"/><stop offset="0.8170" stop-color="rgb(255,255,255)"/><stop offset="0.8371" stop-color="rgb(230,230,255)"/><stop offset="0.8773" stop-color="rgb(230,230,255)"/><stop offset="0.9109" stop-color="rgb(255,255,255)"/><stop offset="0.9243" stop-color="rgb(255,230,230)"/><stop offset="0.9980" stop-color="rgb(255,230,230)"/></linearGradient><linearGradient id="hr7" gradientUnits="userSpaceOnUse" x1="266.1" y1="0" x2="415.3" y2="0"><stop offset="-0.0007" stop-color="rgb(230,230,255)"/><stop offset="0.0865" stop-color="rgb(238,238,255)"/><stop offset="0.0932" stop-color="rgb(255,255,255)"/><stop offset="0.1066" stop-color="rgb(255,238,238)"/><stop offset="0.1870" stop-color="rgb(255,246,246)"/><stop offset="0.2138" stop-color="rgb(221,221,255)"/><stop offset="0.2540" stop-color="rgb(119,119,255)"/><stop offset="0.2942" stop-color="rgb(34,34,255)"/><stop offset="0.3277" stop-color="rgb(68,68,255)"/><stop offset="0.3412" stop-color="rgb(204,204,255)"/><stop offset="0.3613" stop-color="rgb(255,204,204)"/><stop offset="0.4618" stop-color="rgb(255,187,187)"/><stop offset="0.5556" stop-color="rgb(255,230,230)"/><stop offset="0.5757" stop-color="rgb(204,204,255)"/><stop offset="0.6294" stop-color="rgb(195,195,255)"/><stop offset="0.6595" stop-color="rgb(238,238,255)"/><stop offset="0.6830" stop-color="rgb(255,102,102)"/><stop offset="0.7165" stop-color="rgb(255,34,34)"/><stop offset="0.7433" stop-color="rgb(255,85,85)"/><stop offset="0.7768" stop-color="rgb(255,204,204)"/><stop offset="0.8036" stop-color="rgb(255,255,255)"/><stop offset="0.8304" stop-color="rgb(230,230,255)"/><stop offset="0.8706" stop-color="rgb(238,238,255)"/><stop offset="0.8840" stop-color="rgb(255,255,255)"/><stop offset="0.9109" stop-color="rgb(255,221,221)"/><stop offset="0.9980" stop-color="rgb(255,221,221)"/></linearGradient><linearGradient id="hr8" gradientUnits="userSpaceOnUse" x1="266.1" y1="0" x2="415.3" y2="0"><stop offset="-0.0007" stop-color="rgb(255,238,238)"/><stop offset="0.2004" stop-color="rgb(255,230,230)"/><stop offset="0.2205" stop-color="rgb(221,221,255)"/><stop offset="0.2607" stop-color="rgb(102,102,255)"/><stop offset="0.2942" stop-color="rgb(17,17,255)"/><stop offset="0.3277" stop-color="rgb(51,51,255)"/><stop offset="0.3412" stop-color="rgb(221,221,255)"/><stop offset="0.3613" stop-color="rgb(255,187,187)"/><stop offset="0.4417" stop-color="rgb(255,204,204)"/><stop offset="0.4819" stop-color="rgb(255,255,255)"/><stop offset="0.5556" stop-color="rgb(238,238,255)"/><stop offset="0.5757" stop-color="rgb(170,170,255)"/><stop offset="0.6428" stop-color="rgb(153,153,255)"/><stop offset="0.6669" stop-color="rgb(204,204,255)"/><stop offset="0.6830" stop-color="rgb(255,102,102)"/><stop offset="0.7165" stop-color="rgb(255,34,34)"/><stop offset="0.7500" stop-color="rgb(255,85,85)"/><stop offset="0.7768" stop-color="rgb(255,204,204)"/><stop offset="0.8036" stop-color="rgb(255,255,255)"/><stop offset="0.8639" stop-color="rgb(255,255,255)"/><stop offset="0.8975" stop-color="rgb(255,204,204)"/><stop offset="0.9511" stop-color="rgb(255,170,170)"/><stop offset="0.9980" stop-color="rgb(255,187,187)"/></linearGradient><linearGradient id="hr9" gradientUnits="userSpaceOnUse" x1="266.1" y1="0" x2="415.3" y2="0"><stop offset="-0.0007" stop-color="rgb(221,221,255)"/><stop offset="0.0865" stop-color="rgb(230,230,255)"/><stop offset="0.1133" stop-color="rgb(255,238,238)"/><stop offset="0.2004" stop-color="rgb(255,238,238)"/><stop offset="0.2272" stop-color="rgb(204,204,255)"/><stop offset="0.2607" stop-color="rgb(102,102,255)"/><stop offset="0.2942" stop-color="rgb(17,17,255)"/><stop offset="0.3277" stop-color="rgb(51,51,255)"/><stop offset="0.3412" stop-color="rgb(221,221,255)"/><stop offset="0.3613" stop-color="rgb(255,187,187)"/><stop offset="0.4417" stop-color="rgb(255,204,204)"/><stop offset="0.4953" stop-color="rgb(238,238,255)"/><stop offset="0.5623" stop-color="rgb(187,187,255)"/><stop offset="0.6428" stop-color="rgb(170,170,255)"/><stop offset="0.6629" stop-color="rgb(221,221,255)"/><stop offset="0.6830" stop-color="rgb(255,102,102)"/><stop offset="0.7165" stop-color="rgb(255,34,34)"/><stop offset="0.7500" stop-color="rgb(255,85,85)"/><stop offset="0.7768" stop-color="rgb(255,204,204)"/><stop offset="0.8036" stop-color="rgb(255,255,255)"/><stop offset="0.8170" stop-color="rgb(230,230,255)"/><stop offset="0.8706" stop-color="rgb(230,230,255)"/><stop offset="0.8975" stop-color="rgb(255,238,238)"/><stop offset="0.9511" stop-color="rgb(255,204,204)"/><stop offset="0.9980" stop-color="rgb(255,204,204)"/></linearGradient><linearGradient id="cbar" x1="0" y1="0" x2="1" y2="0"><stop offset="0" stop-color="#0000ff"/><stop offset="0.5" stop-color="#ffffff"/><stop offset="1" stop-color="#ff0000"/></linearGradient></defs>
<rect x="266.1" y="251.00" width="149.20" height="14.83" fill="url(#hr0)"/>
<rect x="266.1" y="265.53" width="149.20" height="14.83" fill="url(#hr1)"/>
<rect x="266.1" y="280.06" width="149.20" height="14.83" fill="url(#hr2)"/>
<rect x="266.1" y="294.59" width="149.20" height="14.83" fill="url(#hr3)"/>
<rect x="266.1" y="309.12" width="149.20" height="14.83" fill="url(#hr4)"/>
<rect x="266.1" y="323.65" width="149.20" height="14.83" fill="url(#hr5)"/>
<rect x="266.1" y="338.18" width="149.20" height="14.83" fill="url(#hr6)"/>
<rect x="266.1" y="352.71" width="149.20" height="14.83" fill="url(#hr7)"/>
<rect x="266.1" y="367.24" width="149.20" height="14.83" fill="url(#hr8)"/>
<rect x="266.1" y="381.77" width="149.20" height="14.83" fill="url(#hr9)"/>
<rect x="266.1" y="232.4" width="149.7" height="8.2" fill="url(#cbar)" stroke="#333" stroke-width="0.6"/>
<line x1="266.10" y1="240.60" x2="266.10" y2="238.60" stroke="#333" stroke-width="0.6"/>
<line x1="291.05" y1="240.60" x2="291.05" y2="238.60" stroke="#333" stroke-width="0.6"/>
<line x1="316.00" y1="240.60" x2="316.00" y2="238.60" stroke="#333" stroke-width="0.6"/>
<line x1="340.95" y1="240.60" x2="340.95" y2="238.60" stroke="#333" stroke-width="0.6"/>
<line x1="365.90" y1="240.60" x2="365.90" y2="238.60" stroke="#333" stroke-width="0.6"/>
<line x1="390.85" y1="240.60" x2="390.85" y2="238.60" stroke="#333" stroke-width="0.6"/>
<line x1="415.80" y1="240.60" x2="415.80" y2="238.60" stroke="#333" stroke-width="0.6"/>
<text x="266.10" y="249.30" font-size="8.8" text-anchor="middle" fill="#1a1a1a" font-weight="normal" font-style="normal" font-family='"Liberation Sans", sans-serif'>-15</text>
<text x="291.05" y="249.30" font-size="8.8" text-anchor="middle" fill="#1a1a1a" font-weight="normal" font-style="normal" font-family='"Liberation Sans", sans-serif'>-10</text>
<text x="316.00" y="249.30" font-size="8.8" text-anchor="middle" fill="#1a1a1a" font-weight="normal" font-style="normal" font-family='"Liberation Sans", sans-serif'>-5.0</text>
<text x="340.95" y="249.30" font-size="8.8" text-anchor="middle" fill="#1a1a1a" font-weight="normal" font-style="normal" font-family='"Liberation Sans", sans-serif'>0.0</text>
<text x="365.90" y="249.30" font-size="8.8" text-anchor="middle" fill="#1a1a1a" font-weight="normal" font-style="normal" font-family='"Liberation Sans", sans-serif'>5.0</text>
<text x="390.85" y="249.30" font-size="8.8" text-anchor="middle" fill="#1a1a1a" font-weight="normal" font-style="normal" font-family='"Liberation Sans", sans-serif'>10</text>
<text x="415.80" y="249.30" font-size="8.8" text-anchor="middle" fill="#1a1a1a" font-weight="normal" font-style="normal" font-family='"Liberation Sans", sans-serif'>15</text>
<text x="341.00" y="229.20" font-size="10.8" text-anchor="middle" fill="#1a1a1a" font-weight="normal" font-style="normal" font-family='"Liberation Sans", sans-serif'><tspan font-style="italic" font-family='Liberation Serif' font-size="12">η</tspan> (%)</text>
<polyline points="310.60,396.30 310.60,290.00 311.00,286.00 318.50,270.80 341.50,251.80 365.60,280.70 370.00,286.00 370.70,290.00 370.70,396.30" stroke="#ee1010" stroke-width="1.8" fill="none" stroke-dasharray="0.01,2.9" stroke-linejoin="round" stroke-linecap="round"/>
<polyline points="316.40,396.30 316.80,368.50 317.50,357.50 320.70,346.60 324.00,340.50 342.20,309.20 360.00,340.00 364.50,353.00 366.30,368.50 366.70,396.30" stroke="#111" stroke-width="1.8" fill="none" stroke-dasharray="0.01,2.9" stroke-linejoin="round" stroke-linecap="round"/>
<g stroke-width="0.9" stroke-linecap="square"><line x1="266.10" y1="251.00" x2="415.30" y2="251.00" stroke="#a8a8a8"/><line x1="415.30" y1="251.00" x2="415.30" y2="396.30" stroke="#7a7a7a"/><line x1="266.10" y1="396.30" x2="415.30" y2="396.30" stroke="#3a3a3a"/><line x1="266.10" y1="251.00" x2="266.10" y2="396.30" stroke="#a8a8a8"/></g>
<line x1="273.56" y1="396.30" x2="273.56" y2="393.80" stroke="#3a3a3a" stroke-width="0.8"/>
<line x1="273.56" y1="251.00" x2="273.56" y2="253.50" stroke="#3a3a3a" stroke-width="0.8"/>
<line x1="295.94" y1="396.30" x2="295.94" y2="393.80" stroke="#3a3a3a" stroke-width="0.8"/>
<line x1="295.94" y1="251.00" x2="295.94" y2="253.50" stroke="#3a3a3a" stroke-width="0.8"/>
<line x1="318.32" y1="396.30" x2="318.32" y2="393.80" stroke="#3a3a3a" stroke-width="0.8"/>
<line x1="318.32" y1="251.00" x2="318.32" y2="253.50" stroke="#3a3a3a" stroke-width="0.8"/>
<line x1="340.70" y1="396.30" x2="340.70" y2="393.80" stroke="#3a3a3a" stroke-width="0.8"/>
<line x1="340.70" y1="251.00" x2="340.70" y2="253.50" stroke="#3a3a3a" stroke-width="0.8"/>
<line x1="363.08" y1="396.30" x2="363.08" y2="393.80" stroke="#3a3a3a" stroke-width="0.8"/>
<line x1="363.08" y1="251.00" x2="363.08" y2="253.50" stroke="#3a3a3a" stroke-width="0.8"/>
<line x1="385.46" y1="396.30" x2="385.46" y2="393.80" stroke="#3a3a3a" stroke-width="0.8"/>
<line x1="385.46" y1="251.00" x2="385.46" y2="253.50" stroke="#3a3a3a" stroke-width="0.8"/>
<line x1="407.84" y1="396.30" x2="407.84" y2="393.80" stroke="#3a3a3a" stroke-width="0.8"/>
<line x1="407.84" y1="251.00" x2="407.84" y2="253.50" stroke="#3a3a3a" stroke-width="0.8"/>
<line x1="266.10" y1="258.20" x2="268.60" y2="258.20" stroke="#3a3a3a" stroke-width="0.8"/>
<line x1="415.30" y1="258.20" x2="412.80" y2="258.20" stroke="#3a3a3a" stroke-width="0.8"/>
<text x="262.50" y="261.30" font-size="8.8" text-anchor="end" fill="#1a1a1a" font-weight="normal" font-style="normal" font-family='"Liberation Sans", sans-serif'>2</text>
<line x1="266.10" y1="287.10" x2="268.60" y2="287.10" stroke="#3a3a3a" stroke-width="0.8"/>
<line x1="415.30" y1="287.10" x2="412.80" y2="287.10" stroke="#3a3a3a" stroke-width="0.8"/>
<text x="262.50" y="290.20" font-size="8.8" text-anchor="end" fill="#1a1a1a" font-weight="normal" font-style="normal" font-family='"Liberation Sans", sans-serif'>1.6</text>
<line x1="266.10" y1="316.40" x2="268.60" y2="316.40" stroke="#3a3a3a" stroke-width="0.8"/>
<line x1="415.30" y1="316.40" x2="412.80" y2="316.40" stroke="#3a3a3a" stroke-width="0.8"/>
<text x="262.50" y="319.50" font-size="8.8" text-anchor="end" fill="#1a1a1a" font-weight="normal" font-style="normal" font-family='"Liberation Sans", sans-serif'>1.1</text>
<line x1="266.10" y1="345.60" x2="268.60" y2="345.60" stroke="#3a3a3a" stroke-width="0.8"/>
<line x1="415.30" y1="345.60" x2="412.80" y2="345.60" stroke="#3a3a3a" stroke-width="0.8"/>
<text x="262.50" y="348.70" font-size="8.8" text-anchor="end" fill="#1a1a1a" font-weight="normal" font-style="normal" font-family='"Liberation Sans", sans-serif'>0.6</text>
<line x1="266.10" y1="374.60" x2="268.60" y2="374.60" stroke="#3a3a3a" stroke-width="0.8"/>
<line x1="415.30" y1="374.60" x2="412.80" y2="374.60" stroke="#3a3a3a" stroke-width="0.8"/>
<text x="262.50" y="377.70" font-size="8.8" text-anchor="end" fill="#1a1a1a" font-weight="normal" font-style="normal" font-family='"Liberation Sans", sans-serif'>0.15</text>
<text x="273.56" y="406.50" font-size="8.8" text-anchor="middle" fill="#1a1a1a" font-weight="normal" font-style="normal" font-family='"Liberation Sans", sans-serif'>-0.9</text>
<text x="295.94" y="406.50" font-size="8.8" text-anchor="middle" fill="#1a1a1a" font-weight="normal" font-style="normal" font-family='"Liberation Sans", sans-serif'>-0.6</text>
<text x="318.32" y="406.50" font-size="8.8" text-anchor="middle" fill="#1a1a1a" font-weight="normal" font-style="normal" font-family='"Liberation Sans", sans-serif'>-0.3</text>
<text x="340.70" y="406.50" font-size="8.8" text-anchor="middle" fill="#1a1a1a" font-weight="normal" font-style="normal" font-family='"Liberation Sans", sans-serif'>0</text>
<text x="363.08" y="406.50" font-size="8.8" text-anchor="middle" fill="#1a1a1a" font-weight="normal" font-style="normal" font-family='"Liberation Sans", sans-serif'>0.3</text>
<text x="385.46" y="406.50" font-size="8.8" text-anchor="middle" fill="#1a1a1a" font-weight="normal" font-style="normal" font-family='"Liberation Sans", sans-serif'>0.6</text>
<text x="407.84" y="406.50" font-size="8.8" text-anchor="middle" fill="#1a1a1a" font-weight="normal" font-style="normal" font-family='"Liberation Sans", sans-serif'>0.9</text>
<text x="341.80" y="421.60" font-size="11" text-anchor="middle" fill="#1a1a1a" font-weight="normal" font-style="normal" font-family='"Liberation Sans", sans-serif'><tspan font-style="italic">B</tspan><tspan font-size="7.7" dy="2.4">z</tspan><tspan dy="-2.4"> (T)</tspan></text>
<text x="247.80" y="322.50" font-size="11" text-anchor="middle" fill="#1a1a1a" font-weight="normal" font-style="normal" font-family='"Liberation Sans", sans-serif' transform="rotate(-90 247.80 322.50)"><tspan font-style="italic">T</tspan> (K)</text>
<text x="287.20" y="276.50" font-size="10.5" text-anchor="start" fill="#ee1a1a" font-weight="normal" font-style="normal" font-family='"Liberation Sans", sans-serif'>B</text>
<text x="295.50" y="279.20" font-size="7.2" text-anchor="start" fill="#ee1a1a" font-weight="normal" font-style="normal" font-family='"Liberation Sans", sans-serif'>max</text>
<text x="328.30" y="366.30" font-size="10.5" text-anchor="start" fill="#111" font-weight="normal" font-style="normal" font-family='"Liberation Sans", sans-serif'>B</text>
<text x="336.60" y="368.80" font-size="7.5" text-anchor="start" fill="#111" font-weight="normal" font-style="normal" font-family='"Liberation Sans", sans-serif'>R</text>
<polyline points="501.50,32.40 508.80,31.10 519.90,33.00 542.50,34.50 579.50,38.40 601.50,55.80 616.50,63.50 631.30,79.90 646.10,93.90" stroke="#66dd55" stroke-width="0.7" fill="none" stroke-linejoin="round" stroke-linecap="round"/>
<line x1="616.50" y1="59.50" x2="616.50" y2="67.50" stroke="#66dd55" stroke-width="0.6"/>
<polyline points="501.50,32.40 508.80,19.70 519.90,50.60 542.50,72.10 579.50,85.60 601.50,90.80 616.50,91.30 631.30,92.10" stroke="#6677ff" stroke-width="0.7" fill="none" stroke-linejoin="round" stroke-linecap="round"/>
<g fill="#33cc22" stroke="none" stroke-width="0"><circle cx="508.80" cy="31.10" r="2.3"/><circle cx="519.90" cy="33.00" r="2.3"/><circle cx="542.50" cy="34.50" r="2.3"/><circle cx="579.50" cy="38.40" r="2.3"/><circle cx="601.50" cy="55.80" r="2.3"/><circle cx="616.50" cy="63.50" r="2.3"/><circle cx="631.30" cy="79.90" r="2.3"/><circle cx="646.10" cy="93.90" r="2.3"/></g>
<g fill="#1a1aee" stroke="none" stroke-width="0"><circle cx="501.50" cy="32.40" r="2.3"/><circle cx="508.80" cy="19.70" r="2.3"/><circle cx="519.90" cy="50.60" r="2.3"/><circle cx="542.50" cy="72.10" r="2.3"/><circle cx="579.50" cy="85.60" r="2.3"/><circle cx="601.50" cy="90.80" r="2.3"/><circle cx="616.50" cy="91.30" r="2.3"/><circle cx="631.30" cy="92.10" r="2.3"/></g>
<g fill="#c9f7c0" stroke="none" stroke-width="0"><circle cx="508.20" cy="30.50" r="0.7"/><circle cx="519.30" cy="32.40" r="0.7"/><circle cx="541.90" cy="33.90" r="0.7"/><circle cx="578.90" cy="37.80" r="0.7"/><circle cx="600.90" cy="55.20" r="0.7"/><circle cx="615.90" cy="62.90" r="0.7"/><circle cx="630.70" cy="79.30" r="0.7"/><circle cx="645.50" cy="93.30" r="0.7"/></g>
<g fill="#aab4ff" stroke="none" stroke-width="0"><circle cx="500.90" cy="31.80" r="0.7"/><circle cx="508.20" cy="19.10" r="0.7"/><circle cx="519.30" cy="50.00" r="0.7"/><circle cx="541.90" cy="71.50" r="0.7"/><circle cx="578.90" cy="85.00" r="0.7"/><circle cx="600.90" cy="90.20" r="0.7"/><circle cx="615.90" cy="90.70" r="0.7"/><circle cx="630.70" cy="91.50" r="0.7"/></g>
<polyline points="501.50,113.50 508.80,115.60 519.90,111.40 542.50,112.20 579.50,111.20 601.50,103.40 616.50,107.30 631.30,131.10 646.10,174.40" stroke="#ff7070" stroke-width="0.7" fill="none" stroke-linejoin="round" stroke-linecap="round"/>
<polyline points="501.50,120.80 508.80,121.30 519.90,121.30 531.30,125.20 542.50,131.10 553.40,142.80 564.70,146.70 579.50,155.20 601.50,174.40 616.50,174.40 631.30,174.40" stroke="#555" stroke-width="0.7" fill="none" stroke-linejoin="round" stroke-linecap="round"/>
<g fill="#ee2020" stroke="none" stroke-width="0"><circle cx="501.50" cy="113.50" r="2.3"/><circle cx="508.80" cy="115.60" r="2.3"/><circle cx="519.90" cy="111.40" r="2.3"/><circle cx="542.50" cy="112.20" r="2.3"/><circle cx="579.50" cy="111.20" r="2.3"/><circle cx="601.50" cy="103.40" r="2.3"/><circle cx="616.50" cy="107.30" r="2.3"/><circle cx="631.30" cy="131.10" r="2.3"/><circle cx="646.10" cy="174.40" r="2.3"/></g>
<g fill="#111" stroke="none" stroke-width="0"><circle cx="501.50" cy="120.80" r="2.3"/><circle cx="508.80" cy="121.30" r="2.3"/><circle cx="519.90" cy="121.30" r="2.3"/><circle cx="531.30" cy="125.20" r="2.3"/><circle cx="542.50" cy="131.10" r="2.3"/><circle cx="553.40" cy="142.80" r="2.3"/><circle cx="564.70" cy="146.70" r="2.3"/><circle cx="579.50" cy="155.20" r="2.3"/><circle cx="601.50" cy="174.40" r="2.3"/><circle cx="616.50" cy="174.40" r="2.3"/><circle cx="631.30" cy="174.40" r="2.3"/></g>
<g fill="#ffb0b0" stroke="none" stroke-width="0"><circle cx="500.90" cy="112.90" r="0.7"/><circle cx="508.20" cy="115.00" r="0.7"/><circle cx="519.30" cy="110.80" r="0.7"/><circle cx="541.90" cy="111.60" r="0.7"/><circle cx="578.90" cy="110.60" r="0.7"/><circle cx="600.90" cy="102.80" r="0.7"/><circle cx="615.90" cy="106.70" r="0.7"/><circle cx="630.70" cy="130.50" r="0.7"/><circle cx="645.50" cy="173.80" r="0.7"/></g>
<g fill="#888" stroke="none" stroke-width="0"><circle cx="500.90" cy="120.20" r="0.7"/><circle cx="508.20" cy="120.70" r="0.7"/><circle cx="519.30" cy="120.70" r="0.7"/><circle cx="530.70" cy="124.60" r="0.7"/><circle cx="541.90" cy="130.50" r="0.7"/><circle cx="552.80" cy="142.20" r="0.7"/><circle cx="564.10" cy="146.10" r="0.7"/><circle cx="578.90" cy="154.60" r="0.7"/><circle cx="600.90" cy="173.80" r="0.7"/><circle cx="615.90" cy="173.80" r="0.7"/><circle cx="630.70" cy="173.80" r="0.7"/></g>
<line x1="550.30" y1="43.30" x2="533.20" y2="43.30" stroke="#33cc22" stroke-width="1.6"/>
<path d="M528.20,43.30 L533.20,40.70 L533.20,45.90 Z" fill="#33cc22"/>
<line x1="575.60" y1="71.80" x2="593.90" y2="71.80" stroke="#1a1aee" stroke-width="1.6"/>
<path d="M598.90,71.80 L593.90,74.40 L593.90,69.20 Z" fill="#1a1aee"/>
<line x1="501.00" y1="155.00" x2="519.00" y2="155.00" stroke="#ff8080" stroke-width="0.7"/>
<g fill="#ee2020" stroke="none" stroke-width="0"><circle cx="512.00" cy="155.00" r="2.3"/></g>
<line x1="501.00" y1="169.50" x2="519.00" y2="169.50" stroke="#555" stroke-width="0.7"/>
<g fill="#111" stroke="none" stroke-width="0"><circle cx="512.00" cy="169.50" r="2.3"/></g>
<text x="525.50" y="159.40" font-size="10.5" text-anchor="start" fill="#1a1a1a" font-weight="normal" font-style="normal" font-family='"Liberation Sans", sans-serif'>B<tspan font-size="7.5" dy="2">max</tspan></text>
<text x="525.50" y="173.80" font-size="10.5" text-anchor="start" fill="#1a1a1a" font-weight="normal" font-style="normal" font-family='"Liberation Sans", sans-serif'>B<tspan font-size="7.5" dy="2">R</tspan></text>
<text x="495.50" y="57.20" font-size="11.5" text-anchor="start" fill="#1a1a1a" font-weight="bold" font-style="normal" font-family='"Liberation Sans", sans-serif'>(i)</text>
<text x="495.50" y="141.60" font-size="11.5" text-anchor="start" fill="#1a1a1a" font-weight="bold" font-style="normal" font-family='"Liberation Sans", sans-serif'>(ii)</text>
<g stroke-width="0.9" stroke-linecap="square"><line x1="489.50" y1="15.00" x2="653.10" y2="15.00" stroke="#a8a8a8"/><line x1="653.10" y1="15.00" x2="653.10" y2="98.70" stroke="#a8a8a8"/><line x1="489.50" y1="98.70" x2="653.10" y2="98.70" stroke="#7a7a7a"/><line x1="489.50" y1="15.00" x2="489.50" y2="98.70" stroke="#7a7a7a"/></g>
<g stroke-width="0.9" stroke-linecap="square"><line x1="489.50" y1="98.70" x2="653.10" y2="98.70" stroke="#7a7a7a"/><line x1="653.10" y1="98.70" x2="653.10" y2="182.50" stroke="#a8a8a8"/><line x1="489.50" y1="182.50" x2="653.10" y2="182.50" stroke="#3a3a3a"/><line x1="489.50" y1="98.70" x2="489.50" y2="182.50" stroke="#7a7a7a"/></g>
<line x1="497.70" y1="98.70" x2="497.70" y2="96.20" stroke="#3a3a3a" stroke-width="0.8"/>
<line x1="497.70" y1="15.00" x2="497.70" y2="17.50" stroke="#3a3a3a" stroke-width="0.8"/>
<line x1="514.06" y1="98.70" x2="514.06" y2="97.20" stroke="#3a3a3a" stroke-width="0.8"/>
<line x1="514.06" y1="15.00" x2="514.06" y2="16.50" stroke="#3a3a3a" stroke-width="0.8"/>
<line x1="530.42" y1="98.70" x2="530.42" y2="96.20" stroke="#3a3a3a" stroke-width="0.8"/>
<line x1="530.42" y1="15.00" x2="530.42" y2="17.50" stroke="#3a3a3a" stroke-width="0.8"/>
<line x1="546.78" y1="98.70" x2="546.78" y2="97.20" stroke="#3a3a3a" stroke-width="0.8"/>
<line x1="546.78" y1="15.00" x2="546.78" y2="16.50" stroke="#3a3a3a" stroke-width="0.8"/>
<line x1="563.14" y1="98.70" x2="563.14" y2="96.20" stroke="#3a3a3a" stroke-width="0.8"/>
<line x1="563.14" y1="15.00" x2="563.14" y2="17.50" stroke="#3a3a3a" stroke-width="0.8"/>
<line x1="579.50" y1="98.70" x2="579.50" y2="97.20" stroke="#3a3a3a" stroke-width="0.8"/>
<line x1="579.50" y1="15.00" x2="579.50" y2="16.50" stroke="#3a3a3a" stroke-width="0.8"/>
<line x1="595.86" y1="98.70" x2="595.86" y2="96.20" stroke="#3a3a3a" stroke-width="0.8"/>
<line x1="595.86" y1="15.00" x2="595.86" y2="17.50" stroke="#3a3a3a" stroke-width="0.8"/>
<line x1="612.22" y1="98.70" x2="612.22" y2="97.20" stroke="#3a3a3a" stroke-width="0.8"/>
<line x1="612.22" y1="15.00" x2="612.22" y2="16.50" stroke="#3a3a3a" stroke-width="0.8"/>
<line x1="628.58" y1="98.70" x2="628.58" y2="96.20" stroke="#3a3a3a" stroke-width="0.8"/>
<line x1="628.58" y1="15.00" x2="628.58" y2="17.50" stroke="#3a3a3a" stroke-width="0.8"/>
<line x1="644.94" y1="98.70" x2="644.94" y2="97.20" stroke="#3a3a3a" stroke-width="0.8"/>
<line x1="644.94" y1="15.00" x2="644.94" y2="16.50" stroke="#3a3a3a" stroke-width="0.8"/>
<line x1="497.70" y1="182.50" x2="497.70" y2="180.00" stroke="#3a3a3a" stroke-width="0.8"/>
<line x1="497.70" y1="98.70" x2="497.70" y2="101.20" stroke="#3a3a3a" stroke-width="0.8"/>
<line x1="514.06" y1="182.50" x2="514.06" y2="181.00" stroke="#3a3a3a" stroke-width="0.8"/>
<line x1="514.06" y1="98.70" x2="514.06" y2="100.20" stroke="#3a3a3a" stroke-width="0.8"/>
<line x1="530.42" y1="182.50" x2="530.42" y2="180.00" stroke="#3a3a3a" stroke-width="0.8"/>
<line x1="530.42" y1="98.70" x2="530.42" y2="101.20" stroke="#3a3a3a" stroke-width="0.8"/>
<line x1="546.78" y1="182.50" x2="546.78" y2="181.00" stroke="#3a3a3a" stroke-width="0.8"/>
<line x1="546.78" y1="98.70" x2="546.78" y2="100.20" stroke="#3a3a3a" stroke-width="0.8"/>
<line x1="563.14" y1="182.50" x2="563.14" y2="180.00" stroke="#3a3a3a" stroke-width="0.8"/>
<line x1="563.14" y1="98.70" x2="563.14" y2="101.20" stroke="#3a3a3a" stroke-width="0.8"/>
<line x1="579.50" y1="182.50" x2="579.50" y2="181.00" stroke="#3a3a3a" stroke-width="0.8"/>
<line x1="579.50" y1="98.70" x2="579.50" y2="100.20" stroke="#3a3a3a" stroke-width="0.8"/>
<line x1="595.86" y1="182.50" x2="595.86" y2="180.00" stroke="#3a3a3a" stroke-width="0.8"/>
<line x1="595.86" y1="98.70" x2="595.86" y2="101.20" stroke="#3a3a3a" stroke-width="0.8"/>
<line x1="612.22" y1="182.50" x2="612.22" y2="181.00" stroke="#3a3a3a" stroke-width="0.8"/>
<line x1="612.22" y1="98.70" x2="612.22" y2="100.20" stroke="#3a3a3a" stroke-width="0.8"/>
<line x1="628.58" y1="182.50" x2="628.58" y2="180.00" stroke="#3a3a3a" stroke-width="0.8"/>
<line x1="628.58" y1="98.70" x2="628.58" y2="101.20" stroke="#3a3a3a" stroke-width="0.8"/>
<line x1="644.94" y1="182.50" x2="644.94" y2="181.00" stroke="#3a3a3a" stroke-width="0.8"/>
<line x1="644.94" y1="98.70" x2="644.94" y2="100.20" stroke="#3a3a3a" stroke-width="0.8"/>
<line x1="489.50" y1="94.30" x2="492.00" y2="94.30" stroke="#3a3a3a" stroke-width="0.8"/>
<line x1="489.50" y1="82.63" x2="491.00" y2="82.63" stroke="#3a3a3a" stroke-width="0.8"/>
<line x1="489.50" y1="70.97" x2="492.00" y2="70.97" stroke="#3a3a3a" stroke-width="0.8"/>
<line x1="489.50" y1="59.30" x2="491.00" y2="59.30" stroke="#3a3a3a" stroke-width="0.8"/>
<line x1="489.50" y1="47.63" x2="492.00" y2="47.63" stroke="#3a3a3a" stroke-width="0.8"/>
<line x1="489.50" y1="35.96" x2="491.00" y2="35.96" stroke="#3a3a3a" stroke-width="0.8"/>
<line x1="489.50" y1="24.30" x2="492.00" y2="24.30" stroke="#3a3a3a" stroke-width="0.8"/>
<line x1="653.10" y1="94.10" x2="650.60" y2="94.10" stroke="#3a3a3a" stroke-width="0.8"/>
<line x1="653.10" y1="78.45" x2="651.60" y2="78.45" stroke="#3a3a3a" stroke-width="0.8"/>
<line x1="653.10" y1="62.79" x2="650.60" y2="62.79" stroke="#3a3a3a" stroke-width="0.8"/>
<line x1="653.10" y1="47.14" x2="651.60" y2="47.14" stroke="#3a3a3a" stroke-width="0.8"/>
<line x1="653.10" y1="31.49" x2="650.60" y2="31.49" stroke="#3a3a3a" stroke-width="0.8"/>
<line x1="653.10" y1="15.84" x2="651.60" y2="15.84" stroke="#3a3a3a" stroke-width="0.8"/>
<line x1="489.50" y1="174.40" x2="492.00" y2="174.40" stroke="#3a3a3a" stroke-width="0.8"/>
<line x1="653.10" y1="174.40" x2="650.60" y2="174.40" stroke="#3a3a3a" stroke-width="0.8"/>
<line x1="489.50" y1="166.50" x2="491.00" y2="166.50" stroke="#3a3a3a" stroke-width="0.8"/>
<line x1="653.10" y1="166.50" x2="651.60" y2="166.50" stroke="#3a3a3a" stroke-width="0.8"/>
<line x1="489.50" y1="158.60" x2="492.00" y2="158.60" stroke="#3a3a3a" stroke-width="0.8"/>
<line x1="653.10" y1="158.60" x2="650.60" y2="158.60" stroke="#3a3a3a" stroke-width="0.8"/>
<line x1="489.50" y1="150.70" x2="491.00" y2="150.70" stroke="#3a3a3a" stroke-width="0.8"/>
<line x1="653.10" y1="150.70" x2="651.60" y2="150.70" stroke="#3a3a3a" stroke-width="0.8"/>
<line x1="489.50" y1="142.80" x2="492.00" y2="142.80" stroke="#3a3a3a" stroke-width="0.8"/>
<line x1="653.10" y1="142.80" x2="650.60" y2="142.80" stroke="#3a3a3a" stroke-width="0.8"/>
<line x1="489.50" y1="134.90" x2="491.00" y2="134.90" stroke="#3a3a3a" stroke-width="0.8"/>
<line x1="653.10" y1="134.90" x2="651.60" y2="134.90" stroke="#3a3a3a" stroke-width="0.8"/>
<line x1="489.50" y1="127.00" x2="492.00" y2="127.00" stroke="#3a3a3a" stroke-width="0.8"/>
<line x1="653.10" y1="127.00" x2="650.60" y2="127.00" stroke="#3a3a3a" stroke-width="0.8"/>
<line x1="489.50" y1="119.10" x2="491.00" y2="119.10" stroke="#3a3a3a" stroke-width="0.8"/>
<line x1="653.10" y1="119.10" x2="651.60" y2="119.10" stroke="#3a3a3a" stroke-width="0.8"/>
<line x1="489.50" y1="111.20" x2="492.00" y2="111.20" stroke="#3a3a3a" stroke-width="0.8"/>
<line x1="653.10" y1="111.20" x2="650.60" y2="111.20" stroke="#3a3a3a" stroke-width="0.8"/>
<line x1="489.50" y1="103.30" x2="491.00" y2="103.30" stroke="#3a3a3a" stroke-width="0.8"/>
<line x1="653.10" y1="103.30" x2="651.60" y2="103.30" stroke="#3a3a3a" stroke-width="0.8"/>
<text x="486.00" y="97.40" font-size="8.8" text-anchor="end" fill="#1a1a1a" font-weight="normal" font-style="normal" font-family='"Liberation Sans", sans-serif'>0</text>
<text x="486.00" y="74.06" font-size="8.8" text-anchor="end" fill="#1a1a1a" font-weight="normal" font-style="normal" font-family='"Liberation Sans", sans-serif'>5</text>
<text x="486.00" y="50.73" font-size="8.8" text-anchor="end" fill="#1a1a1a" font-weight="normal" font-style="normal" font-family='"Liberation Sans", sans-serif'>10</text>
<text x="486.00" y="27.40" font-size="8.8" text-anchor="end" fill="#1a1a1a" font-weight="normal" font-style="normal" font-family='"Liberation Sans", sans-serif'>15</text>
<text x="656.00" y="97.20" font-size="8.8" text-anchor="start" fill="#1a1a1a" font-weight="normal" font-style="normal" font-family='"Liberation Sans", sans-serif'>0</text>
<text x="656.00" y="65.89" font-size="8.8" text-anchor="start" fill="#1a1a1a" font-weight="normal" font-style="normal" font-family='"Liberation Sans", sans-serif'>150</text>
<text x="656.00" y="34.59" font-size="8.8" text-anchor="start" fill="#1a1a1a" font-weight="normal" font-style="normal" font-family='"Liberation Sans", sans-serif'>300</text>
<text x="486.00" y="177.50" font-size="8.8" text-anchor="end" fill="#1a1a1a" font-weight="normal" font-style="normal" font-family='"Liberation Sans", sans-serif'>0.0</text>
<text x="486.00" y="161.70" font-size="8.8" text-anchor="end" fill="#1a1a1a" font-weight="normal" font-style="normal" font-family='"Liberation Sans", sans-serif'>0.1</text>
<text x="486.00" y="145.90" font-size="8.8" text-anchor="end" fill="#1a1a1a" font-weight="normal" font-style="normal" font-family='"Liberation Sans", sans-serif'>0.2</text>
<text x="486.00" y="130.10" font-size="8.8" text-anchor="end" fill="#1a1a1a" font-weight="normal" font-style="normal" font-family='"Liberation Sans", sans-serif'>0.3</text>
<text x="486.00" y="114.30" font-size="8.8" text-anchor="end" fill="#1a1a1a" font-weight="normal" font-style="normal" font-family='"Liberation Sans", sans-serif'>0.4</text>
<text x="497.70" y="191.40" font-size="8.8" text-anchor="middle" fill="#1a1a1a" font-weight="normal" font-style="normal" font-family='"Liberation Sans", sans-serif'>0.0</text>
<text x="530.42" y="191.40" font-size="8.8" text-anchor="middle" fill="#1a1a1a" font-weight="normal" font-style="normal" font-family='"Liberation Sans", sans-serif'>0.2</text>
<text x="563.14" y="191.40" font-size="8.8" text-anchor="middle" fill="#1a1a1a" font-weight="normal" font-style="normal" font-family='"Liberation Sans", sans-serif'>0.4</text>
<text x="595.86" y="191.40" font-size="8.8" text-anchor="middle" fill="#1a1a1a" font-weight="normal" font-style="normal" font-family='"Liberation Sans", sans-serif'>0.6</text>
<text x="628.58" y="191.40" font-size="8.8" text-anchor="middle" fill="#1a1a1a" font-weight="normal" font-style="normal" font-family='"Liberation Sans", sans-serif'>0.8</text>
<text x="467.80" y="55.00" font-size="11.5" text-anchor="middle" fill="#1a1a1a" font-weight="normal" font-style="normal" font-family='"Liberation Sans", sans-serif' transform="rotate(-90 467.80 55.00)"><tspan font-family='Liberation Serif' font-style="italic" font-size="13">η</tspan><tspan font-size="8" dy="2"> max</tspan><tspan dy="-2"> (%)</tspan></text>
<text x="468.80" y="140.00" font-size="11.5" text-anchor="middle" fill="#1a1a1a" font-weight="normal" font-style="normal" font-family='"Liberation Sans", sans-serif' transform="rotate(-90 468.80 140.00)"><tspan font-style="italic">B</tspan><tspan font-size="8" dy="2">z</tspan><tspan dy="-2"> (T)</tspan></text>
<text x="682.00" y="58.50" font-size="11" text-anchor="middle" fill="#1a1a1a" font-weight="normal" font-style="normal" font-family='"Liberation Sans", sans-serif' transform="rotate(-90 682.00 58.50)"><tspan font-family='Liberation Serif' font-style="italic" font-size="13">Γ</tspan> (T<tspan font-size="7" dy="-4">-1</tspan><tspan dy="4">)</tspan></text>
<text x="561.20" y="207.20" font-size="12" text-anchor="start" fill="#1a1a1a" font-weight="normal" font-style="normal" font-family='"Liberation Sans", sans-serif'><tspan font-style="italic">T</tspan>/</text>
<text x="573.50" y="207.20" font-size="12" text-anchor="start" fill="#1a1a1a" font-weight="normal" font-style="normal" font-family='"Liberation Sans", sans-serif'><tspan font-style="italic">T</tspan></text>
<text x="580.80" y="209.80" font-size="8.5" text-anchor="start" fill="#1a1a1a" font-weight="normal" font-style="normal" font-family='"Liberation Sans", sans-serif'>c</text>
<text x="582.20" y="200.20" font-size="7.5" text-anchor="start" fill="#1a1a1a" font-weight="normal" font-style="normal" font-family='"Liberation Sans", sans-serif'>L</text>
<line x1="570.30" y1="231.20" x2="570.30" y2="396.60" stroke="#444" stroke-width="0.8"/>
<polyline points="397.20,286.70 431.10,286.70 431.10,249.50 651.70,249.50" stroke="#ee2a2a" stroke-width="1.0" fill="none" stroke-dasharray="3,2" stroke-linejoin="round" stroke-linecap="butt"/>
<polyline points="396.00,316.60 443.30,316.60 443.30,286.20 651.70,286.20" stroke="#f0a060" stroke-width="1.0" fill="none" stroke-dasharray="3,2" stroke-linejoin="round" stroke-linecap="butt"/>
<polyline points="397.00,345.40 453.00,345.40 453.00,323.20 651.70,323.20" stroke="#33dd33" stroke-width="1.0" fill="none" stroke-dasharray="3,2" stroke-linejoin="round" stroke-linecap="butt"/>
<polyline points="397.00,387.90 471.60,387.90 471.60,359.80 651.70,359.80" stroke="#9966dd" stroke-width="1.0" fill="none" stroke-dasharray="3,2" stroke-linejoin="round" stroke-linecap="butt"/>
<g fill="#f2202a" stroke="none" stroke-width="0"><circle cx="494.50" cy="249.60" r="2.0"/><circle cx="499.50" cy="249.60" r="2.0"/><circle cx="504.50" cy="249.60" r="2.0"/><circle cx="509.60" cy="252.60" r="2.0"/><circle cx="514.70" cy="252.60" r="2.0"/><circle cx="519.70" cy="261.60" r="2.0"/><circle cx="524.50" cy="268.20" r="2.0"/><circle cx="529.60" cy="266.20" r="2.0"/><circle cx="534.70" cy="264.20" r="2.0"/><circle cx="539.80" cy="261.10" r="2.0"/><circle cx="544.90" cy="257.20" r="2.0"/><circle cx="550.00" cy="254.70" r="2.0"/><circle cx="555.10" cy="252.60" r="2.0"/><circle cx="560.20" cy="250.10" r="2.0"/><circle cx="565.20" cy="249.60" r="2.0"/><circle cx="570.30" cy="249.60" r="2.0"/><circle cx="575.10" cy="250.10" r="2.0"/><circle cx="580.20" cy="247.50" r="2.0"/><circle cx="585.30" cy="245.80" r="2.0"/><circle cx="590.40" cy="244.60" r="2.0"/><circle cx="595.50" cy="243.30" r="2.0"/><circle cx="600.60" cy="239.50" r="2.0"/><circle cx="605.70" cy="237.30" r="2.0"/><circle cx="610.80" cy="235.60" r="2.0"/><circle cx="615.90" cy="239.50" r="2.0"/><circle cx="621.00" cy="244.10" r="2.0"/><circle cx="626.10" cy="247.00" r="2.0"/><circle cx="631.20" cy="249.60" r="2.0"/><circle cx="635.90" cy="249.60" r="2.0"/><circle cx="641.00" cy="249.60" r="2.0"/><circle cx="646.10" cy="249.60" r="2.0"/></g>
<g fill="#ffb0b0" stroke="none" stroke-width="0"><circle cx="494.00" cy="249.10" r="0.65"/><circle cx="499.00" cy="249.10" r="0.65"/><circle cx="504.00" cy="249.10" r="0.65"/><circle cx="509.10" cy="252.10" r="0.65"/><circle cx="514.20" cy="252.10" r="0.65"/><circle cx="519.20" cy="261.10" r="0.65"/><circle cx="524.00" cy="267.70" r="0.65"/><circle cx="529.10" cy="265.70" r="0.65"/><circle cx="534.20" cy="263.70" r="0.65"/><circle cx="539.30" cy="260.60" r="0.65"/><circle cx="544.40" cy="256.70" r="0.65"/><circle cx="549.50" cy="254.20" r="0.65"/><circle cx="554.60" cy="252.10" r="0.65"/><circle cx="559.70" cy="249.60" r="0.65"/><circle cx="564.70" cy="249.10" r="0.65"/><circle cx="569.80" cy="249.10" r="0.65"/><circle cx="574.60" cy="249.60" r="0.65"/><circle cx="579.70" cy="247.00" r="0.65"/><circle cx="584.80" cy="245.30" r="0.65"/><circle cx="589.90" cy="244.10" r="0.65"/><circle cx="595.00" cy="242.80" r="0.65"/><circle cx="600.10" cy="239.00" r="0.65"/><circle cx="605.20" cy="236.80" r="0.65"/><circle cx="610.30" cy="235.10" r="0.65"/><circle cx="615.40" cy="239.00" r="0.65"/><circle cx="620.50" cy="243.60" r="0.65"/><circle cx="625.60" cy="246.50" r="0.65"/><circle cx="630.70" cy="249.10" r="0.65"/><circle cx="635.40" cy="249.10" r="0.65"/><circle cx="640.50" cy="249.10" r="0.65"/><circle cx="645.60" cy="249.10" r="0.65"/></g>
<g fill="#e8802a" stroke="none" stroke-width="0"><circle cx="490.50" cy="285.70" r="1.95"/><circle cx="493.00" cy="285.40" r="1.95"/><circle cx="495.50" cy="285.40" r="1.95"/><circle cx="498.00" cy="285.00" r="1.95"/><circle cx="500.50" cy="285.40" r="1.95"/><circle cx="503.00" cy="285.40" r="1.95"/><circle cx="505.50" cy="285.00" r="1.95"/><circle cx="508.00" cy="283.77" r="1.95"/><circle cx="510.50" cy="285.07" r="1.95"/><circle cx="513.00" cy="288.30" r="1.95"/><circle cx="515.50" cy="292.20" r="1.95"/><circle cx="518.00" cy="296.01" r="1.95"/><circle cx="520.50" cy="302.25" r="1.95"/><circle cx="523.00" cy="305.47" r="1.95"/><circle cx="525.50" cy="306.95" r="1.95"/><circle cx="528.00" cy="313.68" r="1.95"/><circle cx="530.50" cy="315.09" r="1.95"/><circle cx="533.00" cy="310.70" r="1.95"/><circle cx="535.50" cy="305.50" r="1.95"/><circle cx="538.00" cy="301.19" r="1.95"/><circle cx="540.50" cy="296.79" r="1.95"/><circle cx="543.00" cy="294.04" r="1.95"/><circle cx="545.50" cy="292.25" r="1.95"/><circle cx="548.00" cy="290.75" r="1.95"/><circle cx="550.50" cy="289.25" r="1.95"/><circle cx="553.00" cy="287.98" r="1.95"/><circle cx="555.50" cy="287.00" r="1.95"/><circle cx="558.00" cy="286.17" r="1.95"/><circle cx="560.50" cy="285.59" r="1.95"/><circle cx="563.00" cy="285.40" r="1.95"/><circle cx="565.50" cy="285.40" r="1.95"/><circle cx="568.00" cy="285.76" r="1.95"/><circle cx="570.50" cy="286.24" r="1.95"/><circle cx="573.00" cy="286.68" r="1.95"/><circle cx="575.50" cy="286.96" r="1.95"/><circle cx="578.00" cy="286.80" r="1.95"/><circle cx="580.50" cy="286.59" r="1.95"/><circle cx="583.00" cy="286.16" r="1.95"/><circle cx="585.50" cy="285.33" r="1.95"/><circle cx="588.00" cy="283.49" r="1.95"/><circle cx="590.50" cy="282.46" r="1.95"/><circle cx="593.00" cy="281.22" r="1.95"/><circle cx="595.50" cy="279.39" r="1.95"/><circle cx="598.00" cy="276.07" r="1.95"/><circle cx="600.50" cy="273.09" r="1.95"/><circle cx="603.00" cy="267.84" r="1.95"/><circle cx="605.50" cy="260.92" r="1.95"/><circle cx="608.00" cy="256.52" r="1.95"/><circle cx="610.50" cy="256.91" r="1.95"/><circle cx="613.00" cy="257.20" r="1.95"/><circle cx="615.50" cy="261.49" r="1.95"/><circle cx="618.00" cy="265.24" r="1.95"/><circle cx="620.50" cy="270.34" r="1.95"/><circle cx="623.00" cy="275.88" r="1.95"/><circle cx="625.50" cy="279.06" r="1.95"/><circle cx="628.00" cy="282.80" r="1.95"/><circle cx="630.50" cy="284.00" r="1.95"/><circle cx="633.00" cy="285.81" r="1.95"/><circle cx="635.50" cy="286.94" r="1.95"/><circle cx="638.00" cy="288.34" r="1.95"/><circle cx="640.50" cy="288.32" r="1.95"/><circle cx="643.00" cy="287.14" r="1.95"/><circle cx="645.50" cy="286.60" r="1.95"/><circle cx="648.00" cy="286.60" r="1.95"/><circle cx="650.50" cy="286.44" r="1.95"/></g>
<g fill="#ffd2a8" stroke="none" stroke-width="0"><circle cx="490.20" cy="285.40" r="0.85"/><circle cx="492.70" cy="285.10" r="0.85"/><circle cx="495.20" cy="285.10" r="0.85"/><circle cx="497.70" cy="284.70" r="0.85"/><circle cx="500.20" cy="285.10" r="0.85"/><circle cx="502.70" cy="285.10" r="0.85"/><circle cx="505.20" cy="284.70" r="0.85"/><circle cx="507.70" cy="283.47" r="0.85"/><circle cx="510.20" cy="284.77" r="0.85"/><circle cx="512.70" cy="288.00" r="0.85"/><circle cx="515.20" cy="291.90" r="0.85"/><circle cx="517.70" cy="295.71" r="0.85"/><circle cx="520.20" cy="301.95" r="0.85"/><circle cx="522.70" cy="305.17" r="0.85"/><circle cx="525.20" cy="306.65" r="0.85"/><circle cx="527.70" cy="313.38" r="0.85"/><circle cx="530.20" cy="314.79" r="0.85"/><circle cx="532.70" cy="310.40" r="0.85"/><circle cx="535.20" cy="305.20" r="0.85"/><circle cx="537.70" cy="300.89" r="0.85"/><circle cx="540.20" cy="296.49" r="0.85"/><circle cx="542.70" cy="293.74" r="0.85"/><circle cx="545.20" cy="291.95" r="0.85"/><circle cx="547.70" cy="290.45" r="0.85"/><circle cx="550.20" cy="288.95" r="0.85"/><circle cx="552.70" cy="287.68" r="0.85"/><circle cx="555.20" cy="286.70" r="0.85"/><circle cx="557.70" cy="285.87" r="0.85"/><circle cx="560.20" cy="285.29" r="0.85"/><circle cx="562.70" cy="285.10" r="0.85"/><circle cx="565.20" cy="285.10" r="0.85"/><circle cx="567.70" cy="285.46" r="0.85"/><circle cx="570.20" cy="285.94" r="0.85"/><circle cx="572.70" cy="286.38" r="0.85"/><circle cx="575.20" cy="286.66" r="0.85"/><circle cx="577.70" cy="286.50" r="0.85"/><circle cx="580.20" cy="286.29" r="0.85"/><circle cx="582.70" cy="285.86" r="0.85"/><circle cx="585.20" cy="285.03" r="0.85"/><circle cx="587.70" cy="283.19" r="0.85"/><circle cx="590.20" cy="282.16" r="0.85"/><circle cx="592.70" cy="280.92" r="0.85"/><circle cx="595.20" cy="279.09" r="0.85"/><circle cx="597.70" cy="275.77" r="0.85"/><circle cx="600.20" cy="272.79" r="0.85"/><circle cx="602.70" cy="267.54" r="0.85"/><circle cx="605.20" cy="260.62" r="0.85"/><circle cx="607.70" cy="256.22" r="0.85"/><circle cx="610.20" cy="256.61" r="0.85"/><circle cx="612.70" cy="256.90" r="0.85"/><circle cx="615.20" cy="261.19" r="0.85"/><circle cx="617.70" cy="264.94" r="0.85"/><circle cx="620.20" cy="270.04" r="0.85"/><circle cx="622.70" cy="275.58" r="0.85"/><circle cx="625.20" cy="278.76" r="0.85"/><circle cx="627.70" cy="282.50" r="0.85"/><circle cx="630.20" cy="283.70" r="0.85"/><circle cx="632.70" cy="285.51" r="0.85"/><circle cx="635.20" cy="286.64" r="0.85"/><circle cx="637.70" cy="288.04" r="0.85"/><circle cx="640.20" cy="288.02" r="0.85"/><circle cx="642.70" cy="286.84" r="0.85"/><circle cx="645.20" cy="286.30" r="0.85"/><circle cx="647.70" cy="286.30" r="0.85"/><circle cx="650.20" cy="286.14" r="0.85"/></g>
<g fill="#22dd11" stroke="none" stroke-width="0"><circle cx="490.50" cy="323.30" r="1.9"/><circle cx="492.63" cy="322.73" r="1.9"/><circle cx="494.74" cy="322.13" r="1.9"/><circle cx="496.86" cy="321.60" r="1.9"/><circle cx="499.06" cy="321.60" r="1.9"/><circle cx="501.02" cy="322.49" r="1.9"/><circle cx="502.92" cy="323.60" r="1.9"/><circle cx="504.75" cy="324.79" r="1.9"/><circle cx="506.15" cy="326.48" r="1.9"/><circle cx="507.40" cy="326.72" r="1.9"/><circle cx="508.40" cy="324.76" r="1.9"/><circle cx="509.40" cy="322.80" r="1.9"/><circle cx="510.37" cy="323.97" r="1.9"/><circle cx="511.34" cy="325.95" r="1.9"/><circle cx="514.40" cy="330.80" r="1.9"/><circle cx="516.90" cy="338.60" r="1.9"/><circle cx="519.70" cy="344.50" r="1.9"/><circle cx="522.30" cy="347.30" r="1.9"/><circle cx="524.60" cy="348.20" r="1.9"/><circle cx="527.30" cy="350.10" r="1.9"/><circle cx="529.60" cy="354.40" r="1.9"/><circle cx="532.20" cy="355.10" r="1.9"/><circle cx="535.00" cy="342.90" r="1.9"/><circle cx="537.20" cy="329.20" r="1.9"/><circle cx="539.80" cy="325.00" r="1.9"/><circle cx="542.30" cy="322.40" r="1.9"/><circle cx="545.70" cy="320.70" r="1.9"/><circle cx="549.10" cy="319.90" r="1.9"/><circle cx="552.50" cy="318.70" r="1.9"/><circle cx="555.90" cy="318.70" r="1.9"/><circle cx="559.30" cy="319.00" r="1.9"/><circle cx="562.70" cy="319.90" r="1.9"/><circle cx="566.10" cy="320.70" r="1.9"/><circle cx="569.50" cy="322.40" r="1.9"/><circle cx="573.20" cy="325.00" r="1.9"/><circle cx="575.35" cy="326.07" r="1.9"/><circle cx="577.49" cy="327.15" r="1.9"/><circle cx="579.79" cy="327.60" r="1.9"/><circle cx="582.19" cy="327.60" r="1.9"/><circle cx="584.56" cy="327.36" r="1.9"/><circle cx="586.89" cy="326.78" r="1.9"/><circle cx="589.21" cy="326.20" r="1.9"/><circle cx="591.54" cy="325.61" r="1.9"/><circle cx="593.87" cy="325.03" r="1.9"/><circle cx="595.80" cy="323.62" r="1.9"/><circle cx="597.71" cy="322.17" r="1.9"/><circle cx="603.00" cy="317.20" r="1.9"/><circle cx="605.60" cy="304.30" r="1.9"/><circle cx="608.20" cy="292.60" r="1.9"/><circle cx="610.80" cy="292.10" r="1.9"/><circle cx="613.40" cy="296.50" r="1.9"/><circle cx="616.00" cy="300.40" r="1.9"/><circle cx="618.60" cy="304.30" r="1.9"/><circle cx="621.20" cy="309.50" r="1.9"/><circle cx="623.80" cy="314.60" r="1.9"/><circle cx="626.40" cy="319.80" r="1.9"/><circle cx="630.30" cy="322.40" r="1.9"/><circle cx="632.28" cy="323.76" r="1.9"/><circle cx="634.29" cy="325.06" r="1.9"/><circle cx="636.56" cy="325.82" r="1.9"/><circle cx="638.88" cy="326.19" r="1.9"/><circle cx="641.26" cy="325.88" r="1.9"/><circle cx="643.52" cy="325.13" r="1.9"/><circle cx="645.74" cy="324.22" r="1.9"/><circle cx="648.09" cy="323.71" r="1.9"/><circle cx="650.43" cy="323.21" r="1.9"/></g>
<g fill="#b8ffb0" stroke="none" stroke-width="0"><circle cx="490.00" cy="322.80" r="0.6"/><circle cx="492.13" cy="322.23" r="0.6"/><circle cx="494.24" cy="321.63" r="0.6"/><circle cx="496.36" cy="321.10" r="0.6"/><circle cx="498.56" cy="321.10" r="0.6"/><circle cx="500.52" cy="321.99" r="0.6"/><circle cx="502.42" cy="323.10" r="0.6"/><circle cx="504.25" cy="324.29" r="0.6"/><circle cx="505.65" cy="325.98" r="0.6"/><circle cx="506.90" cy="326.22" r="0.6"/><circle cx="507.90" cy="324.26" r="0.6"/><circle cx="508.90" cy="322.30" r="0.6"/><circle cx="509.87" cy="323.47" r="0.6"/><circle cx="510.84" cy="325.45" r="0.6"/><circle cx="513.90" cy="330.30" r="0.6"/><circle cx="516.40" cy="338.10" r="0.6"/><circle cx="519.20" cy="344.00" r="0.6"/><circle cx="521.80" cy="346.80" r="0.6"/><circle cx="524.10" cy="347.70" r="0.6"/><circle cx="526.80" cy="349.60" r="0.6"/><circle cx="529.10" cy="353.90" r="0.6"/><circle cx="531.70" cy="354.60" r="0.6"/><circle cx="534.50" cy="342.40" r="0.6"/><circle cx="536.70" cy="328.70" r="0.6"/><circle cx="539.30" cy="324.50" r="0.6"/><circle cx="541.80" cy="321.90" r="0.6"/><circle cx="545.20" cy="320.20" r="0.6"/><circle cx="548.60" cy="319.40" r="0.6"/><circle cx="552.00" cy="318.20" r="0.6"/><circle cx="555.40" cy="318.20" r="0.6"/><circle cx="558.80" cy="318.50" r="0.6"/><circle cx="562.20" cy="319.40" r="0.6"/><circle cx="565.60" cy="320.20" r="0.6"/><circle cx="569.00" cy="321.90" r="0.6"/><circle cx="572.70" cy="324.50" r="0.6"/><circle cx="574.85" cy="325.57" r="0.6"/><circle cx="576.99" cy="326.65" r="0.6"/><circle cx="579.29" cy="327.10" r="0.6"/><circle cx="581.69" cy="327.10" r="0.6"/><circle cx="584.06" cy="326.86" r="0.6"/><circle cx="586.39" cy="326.28" r="0.6"/><circle cx="588.71" cy="325.70" r="0.6"/><circle cx="591.04" cy="325.11" r="0.6"/><circle cx="593.37" cy="324.53" r="0.6"/><circle cx="595.30" cy="323.12" r="0.6"/><circle cx="597.21" cy="321.67" r="0.6"/><circle cx="602.50" cy="316.70" r="0.6"/><circle cx="605.10" cy="303.80" r="0.6"/><circle cx="607.70" cy="292.10" r="0.6"/><circle cx="610.30" cy="291.60" r="0.6"/><circle cx="612.90" cy="296.00" r="0.6"/><circle cx="615.50" cy="299.90" r="0.6"/><circle cx="618.10" cy="303.80" r="0.6"/><circle cx="620.70" cy="309.00" r="0.6"/><circle cx="623.30" cy="314.10" r="0.6"/><circle cx="625.90" cy="319.30" r="0.6"/><circle cx="629.80" cy="321.90" r="0.6"/><circle cx="631.78" cy="323.26" r="0.6"/><circle cx="633.79" cy="324.56" r="0.6"/><circle cx="636.06" cy="325.32" r="0.6"/><circle cx="638.38" cy="325.69" r="0.6"/><circle cx="640.76" cy="325.38" r="0.6"/><circle cx="643.02" cy="324.63" r="0.6"/><circle cx="645.24" cy="323.72" r="0.6"/><circle cx="647.59" cy="323.21" r="0.6"/><circle cx="649.93" cy="322.71" r="0.6"/></g>
<g fill="#6c1fd6" stroke="none" stroke-width="0"><circle cx="489.70" cy="359.70" r="1.9"/><circle cx="491.90" cy="359.70" r="1.9"/><circle cx="494.03" cy="359.19" r="1.9"/><circle cx="496.16" cy="358.62" r="1.9"/><circle cx="498.23" cy="357.89" r="1.9"/><circle cx="500.07" cy="358.69" r="1.9"/><circle cx="501.99" cy="359.75" r="1.9"/><circle cx="504.08" cy="360.34" r="1.9"/><circle cx="506.25" cy="360.35" r="1.9"/><circle cx="508.39" cy="359.84" r="1.9"/><circle cx="510.43" cy="359.03" r="1.9"/><circle cx="512.56" cy="358.46" r="1.9"/><circle cx="514.40" cy="363.00" r="1.9"/><circle cx="516.90" cy="368.80" r="1.9"/><circle cx="518.50" cy="373.70" r="1.9"/><circle cx="520.70" cy="381.50" r="1.9"/><circle cx="522.70" cy="378.70" r="1.9"/><circle cx="524.30" cy="382.50" r="1.9"/><circle cx="526.80" cy="383.60" r="1.9"/><circle cx="528.90" cy="387.80" r="1.9"/><circle cx="531.20" cy="389.70" r="1.9"/><circle cx="532.90" cy="385.80" r="1.9"/><circle cx="535.00" cy="379.20" r="1.9"/><circle cx="535.90" cy="366.30" r="1.9"/><circle cx="535.90" cy="362.20" r="1.9"/><circle cx="536.30" cy="354.80" r="1.9"/><circle cx="536.70" cy="353.10" r="1.9"/><circle cx="538.30" cy="344.00" r="1.9"/><circle cx="540.00" cy="345.70" r="1.9"/><circle cx="540.80" cy="349.80" r="1.9"/><circle cx="539.50" cy="346.00" r="1.9"/><circle cx="541.59" cy="346.95" r="1.9"/><circle cx="543.69" cy="347.91" r="1.9"/><circle cx="545.78" cy="348.86" r="1.9"/><circle cx="547.87" cy="349.82" r="1.9"/><circle cx="549.96" cy="350.77" r="1.9"/><circle cx="552.06" cy="351.73" r="1.9"/><circle cx="554.15" cy="352.68" r="1.9"/><circle cx="556.24" cy="353.63" r="1.9"/><circle cx="558.33" cy="354.59" r="1.9"/><circle cx="560.43" cy="355.54" r="1.9"/><circle cx="562.52" cy="356.50" r="1.9"/><circle cx="564.61" cy="357.45" r="1.9"/><circle cx="566.71" cy="358.40" r="1.9"/><circle cx="568.80" cy="359.36" r="1.9"/><circle cx="570.89" cy="360.31" r="1.9"/><circle cx="572.96" cy="361.32" r="1.9"/><circle cx="575.02" cy="362.34" r="1.9"/><circle cx="577.09" cy="363.35" r="1.9"/><circle cx="579.15" cy="364.36" r="1.9"/><circle cx="581.22" cy="365.36" r="1.9"/><circle cx="583.30" cy="366.35" r="1.9"/><circle cx="585.36" cy="367.38" r="1.9"/><circle cx="587.41" cy="368.41" r="1.9"/><circle cx="589.50" cy="369.38" r="1.9"/><circle cx="591.63" cy="370.24" r="1.9"/><circle cx="593.76" cy="371.10" r="1.9"/><circle cx="595.91" cy="371.93" r="1.9"/><circle cx="598.05" cy="372.76" r="1.9"/><circle cx="600.12" cy="373.75" r="1.9"/><circle cx="602.80" cy="375.90" r="1.9"/><circle cx="603.80" cy="376.60" r="1.9"/><circle cx="604.20" cy="373.00" r="1.9"/><circle cx="604.20" cy="368.80" r="1.9"/><circle cx="604.20" cy="365.30" r="1.9"/><circle cx="604.60" cy="360.30" r="1.9"/><circle cx="605.60" cy="354.70" r="1.9"/><circle cx="605.60" cy="339.80" r="1.9"/><circle cx="606.60" cy="341.20" r="1.9"/><circle cx="607.40" cy="332.00" r="1.9"/><circle cx="608.40" cy="327.80" r="1.9"/><circle cx="610.30" cy="329.20" r="1.9"/><circle cx="611.70" cy="330.60" r="1.9"/><circle cx="613.10" cy="334.10" r="1.9"/><circle cx="613.40" cy="337.00" r="1.9"/><circle cx="612.00" cy="339.10" r="1.9"/><circle cx="614.10" cy="338.40" r="1.9"/><circle cx="617.60" cy="341.20" r="1.9"/><circle cx="619.80" cy="345.50" r="1.9"/><circle cx="621.90" cy="350.40" r="1.9"/><circle cx="624.00" cy="351.80" r="1.9"/><circle cx="625.80" cy="356.10" r="1.9"/><circle cx="627.80" cy="360.30" r="1.9"/><circle cx="630.40" cy="360.30" r="1.9"/><circle cx="632.50" cy="361.00" r="1.9"/><circle cx="634.60" cy="361.70" r="1.9"/><circle cx="637.40" cy="363.10" r="1.9"/><circle cx="640.30" cy="363.80" r="1.9"/><circle cx="643.10" cy="363.10" r="1.9"/><circle cx="645.90" cy="361.70" r="1.9"/><circle cx="649.50" cy="360.30" r="1.9"/></g>
<g fill="#d0a8ff" stroke="none" stroke-width="0"><circle cx="489.20" cy="359.20" r="0.6"/><circle cx="491.40" cy="359.20" r="0.6"/><circle cx="493.53" cy="358.69" r="0.6"/><circle cx="495.66" cy="358.12" r="0.6"/><circle cx="497.73" cy="357.39" r="0.6"/><circle cx="499.57" cy="358.19" r="0.6"/><circle cx="501.49" cy="359.25" r="0.6"/><circle cx="503.58" cy="359.84" r="0.6"/><circle cx="505.75" cy="359.85" r="0.6"/><circle cx="507.89" cy="359.34" r="0.6"/><circle cx="509.93" cy="358.53" r="0.6"/><circle cx="512.06" cy="357.96" r="0.6"/><circle cx="513.90" cy="362.50" r="0.6"/><circle cx="516.40" cy="368.30" r="0.6"/><circle cx="518.00" cy="373.20" r="0.6"/><circle cx="520.20" cy="381.00" r="0.6"/><circle cx="522.20" cy="378.20" r="0.6"/><circle cx="523.80" cy="382.00" r="0.6"/><circle cx="526.30" cy="383.10" r="0.6"/><circle cx="528.40" cy="387.30" r="0.6"/><circle cx="530.70" cy="389.20" r="0.6"/><circle cx="532.40" cy="385.30" r="0.6"/><circle cx="534.50" cy="378.70" r="0.6"/><circle cx="535.40" cy="365.80" r="0.6"/><circle cx="535.40" cy="361.70" r="0.6"/><circle cx="535.80" cy="354.30" r="0.6"/><circle cx="536.20" cy="352.60" r="0.6"/><circle cx="537.80" cy="343.50" r="0.6"/><circle cx="539.50" cy="345.20" r="0.6"/><circle cx="540.30" cy="349.30" r="0.6"/><circle cx="539.00" cy="345.50" r="0.6"/><circle cx="541.09" cy="346.45" r="0.6"/><circle cx="543.19" cy="347.41" r="0.6"/><circle cx="545.28" cy="348.36" r="0.6"/><circle cx="547.37" cy="349.32" r="0.6"/><circle cx="549.46" cy="350.27" r="0.6"/><circle cx="551.56" cy="351.23" r="0.6"/><circle cx="553.65" cy="352.18" r="0.6"/><circle cx="555.74" cy="353.13" r="0.6"/><circle cx="557.83" cy="354.09" r="0.6"/><circle cx="559.93" cy="355.04" r="0.6"/><circle cx="562.02" cy="356.00" r="0.6"/><circle cx="564.11" cy="356.95" r="0.6"/><circle cx="566.21" cy="357.90" r="0.6"/><circle cx="568.30" cy="358.86" r="0.6"/><circle cx="570.39" cy="359.81" r="0.6"/><circle cx="572.46" cy="360.82" r="0.6"/><circle cx="574.52" cy="361.84" r="0.6"/><circle cx="576.59" cy="362.85" r="0.6"/><circle cx="578.65" cy="363.86" r="0.6"/><circle cx="580.72" cy="364.86" r="0.6"/><circle cx="582.80" cy="365.85" r="0.6"/><circle cx="584.86" cy="366.88" r="0.6"/><circle cx="586.91" cy="367.91" r="0.6"/><circle cx="589.00" cy="368.88" r="0.6"/><circle cx="591.13" cy="369.74" r="0.6"/><circle cx="593.26" cy="370.60" r="0.6"/><circle cx="595.41" cy="371.43" r="0.6"/><circle cx="597.55" cy="372.26" r="0.6"/><circle cx="599.62" cy="373.25" r="0.6"/><circle cx="602.30" cy="375.40" r="0.6"/><circle cx="603.30" cy="376.10" r="0.6"/><circle cx="603.70" cy="372.50" r="0.6"/><circle cx="603.70" cy="368.30" r="0.6"/><circle cx="603.70" cy="364.80" r="0.6"/><circle cx="604.10" cy="359.80" r="0.6"/><circle cx="605.10" cy="354.20" r="0.6"/><circle cx="605.10" cy="339.30" r="0.6"/><circle cx="606.10" cy="340.70" r="0.6"/><circle cx="606.90" cy="331.50" r="0.6"/><circle cx="607.90" cy="327.30" r="0.6"/><circle cx="609.80" cy="328.70" r="0.6"/><circle cx="611.20" cy="330.10" r="0.6"/><circle cx="612.60" cy="333.60" r="0.6"/><circle cx="612.90" cy="336.50" r="0.6"/><circle cx="611.50" cy="338.60" r="0.6"/><circle cx="613.60" cy="337.90" r="0.6"/><circle cx="617.10" cy="340.70" r="0.6"/><circle cx="619.30" cy="345.00" r="0.6"/><circle cx="621.40" cy="349.90" r="0.6"/><circle cx="623.50" cy="351.30" r="0.6"/><circle cx="625.30" cy="355.60" r="0.6"/><circle cx="627.30" cy="359.80" r="0.6"/><circle cx="629.90" cy="359.80" r="0.6"/><circle cx="632.00" cy="360.50" r="0.6"/><circle cx="634.10" cy="361.20" r="0.6"/><circle cx="636.90" cy="362.60" r="0.6"/><circle cx="639.80" cy="363.30" r="0.6"/><circle cx="642.60" cy="362.60" r="0.6"/><circle cx="645.40" cy="361.20" r="0.6"/><circle cx="649.00" cy="359.80" r="0.6"/></g>
<line x1="493.90" y1="249.60" x2="493.90" y2="285.70" stroke="#111" stroke-width="1.8"/>
<text x="496.50" y="272.50" font-size="10.5" text-anchor="start" fill="#1a1a1a" font-weight="normal" font-style="normal" font-family='"Liberation Sans", sans-serif'>15 %</text>
<g stroke-width="0.9" stroke-linecap="square"><line x1="489.40" y1="231.20" x2="651.70" y2="231.20" stroke="#3a3a3a"/><line x1="651.70" y1="231.20" x2="651.70" y2="396.60" stroke="#a8a8a8"/><line x1="489.40" y1="396.60" x2="651.70" y2="396.60" stroke="#3a3a3a"/><line x1="489.40" y1="231.20" x2="489.40" y2="396.60" stroke="#3a3a3a"/></g>
<line x1="495.07" y1="396.60" x2="495.07" y2="395.10" stroke="#3a3a3a" stroke-width="0.8"/>
<line x1="495.07" y1="231.20" x2="495.07" y2="232.70" stroke="#3a3a3a" stroke-width="0.8"/>
<line x1="510.12" y1="396.60" x2="510.12" y2="394.10" stroke="#3a3a3a" stroke-width="0.8"/>
<line x1="510.12" y1="231.20" x2="510.12" y2="233.70" stroke="#3a3a3a" stroke-width="0.8"/>
<line x1="525.16" y1="396.60" x2="525.16" y2="395.10" stroke="#3a3a3a" stroke-width="0.8"/>
<line x1="525.16" y1="231.20" x2="525.16" y2="232.70" stroke="#3a3a3a" stroke-width="0.8"/>
<line x1="540.21" y1="396.60" x2="540.21" y2="394.10" stroke="#3a3a3a" stroke-width="0.8"/>
<line x1="540.21" y1="231.20" x2="540.21" y2="233.70" stroke="#3a3a3a" stroke-width="0.8"/>
<line x1="555.25" y1="396.60" x2="555.25" y2="395.10" stroke="#3a3a3a" stroke-width="0.8"/>
<line x1="555.25" y1="231.20" x2="555.25" y2="232.70" stroke="#3a3a3a" stroke-width="0.8"/>
<line x1="570.30" y1="396.60" x2="570.30" y2="394.10" stroke="#3a3a3a" stroke-width="0.8"/>
<line x1="570.30" y1="231.20" x2="570.30" y2="233.70" stroke="#3a3a3a" stroke-width="0.8"/>
<line x1="585.34" y1="396.60" x2="585.34" y2="395.10" stroke="#3a3a3a" stroke-width="0.8"/>
<line x1="585.34" y1="231.20" x2="585.34" y2="232.70" stroke="#3a3a3a" stroke-width="0.8"/>
<line x1="600.39" y1="396.60" x2="600.39" y2="394.10" stroke="#3a3a3a" stroke-width="0.8"/>
<line x1="600.39" y1="231.20" x2="600.39" y2="233.70" stroke="#3a3a3a" stroke-width="0.8"/>
<line x1="615.43" y1="396.60" x2="615.43" y2="395.10" stroke="#3a3a3a" stroke-width="0.8"/>
<line x1="615.43" y1="231.20" x2="615.43" y2="232.70" stroke="#3a3a3a" stroke-width="0.8"/>
<line x1="630.48" y1="396.60" x2="630.48" y2="394.10" stroke="#3a3a3a" stroke-width="0.8"/>
<line x1="630.48" y1="231.20" x2="630.48" y2="233.70" stroke="#3a3a3a" stroke-width="0.8"/>
<line x1="645.52" y1="396.60" x2="645.52" y2="395.10" stroke="#3a3a3a" stroke-width="0.8"/>
<line x1="645.52" y1="231.20" x2="645.52" y2="232.70" stroke="#3a3a3a" stroke-width="0.8"/>
<line x1="489.40" y1="237.50" x2="492.40" y2="237.50" stroke="#3a3a3a" stroke-width="0.8"/>
<line x1="651.70" y1="237.50" x2="648.70" y2="237.50" stroke="#3a3a3a" stroke-width="0.8"/>
<line x1="489.40" y1="243.62" x2="491.20" y2="243.62" stroke="#3a3a3a" stroke-width="0.8"/>
<line x1="651.70" y1="243.62" x2="649.90" y2="243.62" stroke="#3a3a3a" stroke-width="0.8"/>
<line x1="489.40" y1="249.75" x2="492.40" y2="249.75" stroke="#3a3a3a" stroke-width="0.8"/>
<line x1="651.70" y1="249.75" x2="648.70" y2="249.75" stroke="#3a3a3a" stroke-width="0.8"/>
<line x1="489.40" y1="255.88" x2="491.20" y2="255.88" stroke="#3a3a3a" stroke-width="0.8"/>
<line x1="651.70" y1="255.88" x2="649.90" y2="255.88" stroke="#3a3a3a" stroke-width="0.8"/>
<line x1="489.40" y1="262.00" x2="492.40" y2="262.00" stroke="#3a3a3a" stroke-width="0.8"/>
<line x1="651.70" y1="262.00" x2="648.70" y2="262.00" stroke="#3a3a3a" stroke-width="0.8"/>
<line x1="489.40" y1="268.12" x2="491.20" y2="268.12" stroke="#3a3a3a" stroke-width="0.8"/>
<line x1="651.70" y1="268.12" x2="649.90" y2="268.12" stroke="#3a3a3a" stroke-width="0.8"/>
<line x1="489.40" y1="274.25" x2="492.40" y2="274.25" stroke="#3a3a3a" stroke-width="0.8"/>
<line x1="651.70" y1="274.25" x2="648.70" y2="274.25" stroke="#3a3a3a" stroke-width="0.8"/>
<line x1="489.40" y1="280.38" x2="491.20" y2="280.38" stroke="#3a3a3a" stroke-width="0.8"/>
<line x1="651.70" y1="280.38" x2="649.90" y2="280.38" stroke="#3a3a3a" stroke-width="0.8"/>
<line x1="489.40" y1="286.50" x2="492.40" y2="286.50" stroke="#3a3a3a" stroke-width="0.8"/>
<line x1="651.70" y1="286.50" x2="648.70" y2="286.50" stroke="#3a3a3a" stroke-width="0.8"/>
<line x1="489.40" y1="292.62" x2="491.20" y2="292.62" stroke="#3a3a3a" stroke-width="0.8"/>
<line x1="651.70" y1="292.62" x2="649.90" y2="292.62" stroke="#3a3a3a" stroke-width="0.8"/>
<line x1="489.40" y1="298.75" x2="492.40" y2="298.75" stroke="#3a3a3a" stroke-width="0.8"/>
<line x1="651.70" y1="298.75" x2="648.70" y2="298.75" stroke="#3a3a3a" stroke-width="0.8"/>
<line x1="489.40" y1="304.88" x2="491.20" y2="304.88" stroke="#3a3a3a" stroke-width="0.8"/>
<line x1="651.70" y1="304.88" x2="649.90" y2="304.88" stroke="#3a3a3a" stroke-width="0.8"/>
<line x1="489.40" y1="311.00" x2="492.40" y2="311.00" stroke="#3a3a3a" stroke-width="0.8"/>
<line x1="651.70" y1="311.00" x2="648.70" y2="311.00" stroke="#3a3a3a" stroke-width="0.8"/>
<line x1="489.40" y1="317.12" x2="491.20" y2="317.12" stroke="#3a3a3a" stroke-width="0.8"/>
<line x1="651.70" y1="317.12" x2="649.90" y2="317.12" stroke="#3a3a3a" stroke-width="0.8"/>
<line x1="489.40" y1="323.25" x2="492.40" y2="323.25" stroke="#3a3a3a" stroke-width="0.8"/>
<line x1="651.70" y1="323.25" x2="648.70" y2="323.25" stroke="#3a3a3a" stroke-width="0.8"/>
<line x1="489.40" y1="329.38" x2="491.20" y2="329.38" stroke="#3a3a3a" stroke-width="0.8"/>
<line x1="651.70" y1="329.38" x2="649.90" y2="329.38" stroke="#3a3a3a" stroke-width="0.8"/>
<line x1="489.40" y1="335.50" x2="492.40" y2="335.50" stroke="#3a3a3a" stroke-width="0.8"/>
<line x1="651.70" y1="335.50" x2="648.70" y2="335.50" stroke="#3a3a3a" stroke-width="0.8"/>
<line x1="489.40" y1="341.62" x2="491.20" y2="341.62" stroke="#3a3a3a" stroke-width="0.8"/>
<line x1="651.70" y1="341.62" x2="649.90" y2="341.62" stroke="#3a3a3a" stroke-width="0.8"/>
<line x1="489.40" y1="347.75" x2="492.40" y2="347.75" stroke="#3a3a3a" stroke-width="0.8"/>
<line x1="651.70" y1="347.75" x2="648.70" y2="347.75" stroke="#3a3a3a" stroke-width="0.8"/>
<line x1="489.40" y1="353.88" x2="491.20" y2="353.88" stroke="#3a3a3a" stroke-width="0.8"/>
<line x1="651.70" y1="353.88" x2="649.90" y2="353.88" stroke="#3a3a3a" stroke-width="0.8"/>
<line x1="489.40" y1="360.00" x2="492.40" y2="360.00" stroke="#3a3a3a" stroke-width="0.8"/>
<line x1="651.70" y1="360.00" x2="648.70" y2="360.00" stroke="#3a3a3a" stroke-width="0.8"/>
<line x1="489.40" y1="366.12" x2="491.20" y2="366.12" stroke="#3a3a3a" stroke-width="0.8"/>
<line x1="651.70" y1="366.12" x2="649.90" y2="366.12" stroke="#3a3a3a" stroke-width="0.8"/>
<line x1="489.40" y1="372.25" x2="492.40" y2="372.25" stroke="#3a3a3a" stroke-width="0.8"/>
<line x1="651.70" y1="372.25" x2="648.70" y2="372.25" stroke="#3a3a3a" stroke-width="0.8"/>
<line x1="489.40" y1="378.38" x2="491.20" y2="378.38" stroke="#3a3a3a" stroke-width="0.8"/>
<line x1="651.70" y1="378.38" x2="649.90" y2="378.38" stroke="#3a3a3a" stroke-width="0.8"/>
<line x1="489.40" y1="384.50" x2="492.40" y2="384.50" stroke="#3a3a3a" stroke-width="0.8"/>
<line x1="651.70" y1="384.50" x2="648.70" y2="384.50" stroke="#3a3a3a" stroke-width="0.8"/>
<line x1="489.40" y1="390.62" x2="491.20" y2="390.62" stroke="#3a3a3a" stroke-width="0.8"/>
<line x1="651.70" y1="390.62" x2="649.90" y2="390.62" stroke="#3a3a3a" stroke-width="0.8"/>
<text x="510.12" y="407.00" font-size="8.8" text-anchor="middle" fill="#1a1a1a" font-weight="normal" font-style="normal" font-family='"Liberation Sans", sans-serif'>-0.6</text>
<text x="540.21" y="407.00" font-size="8.8" text-anchor="middle" fill="#1a1a1a" font-weight="normal" font-style="normal" font-family='"Liberation Sans", sans-serif'>-0.3</text>
<text x="570.30" y="407.00" font-size="8.8" text-anchor="middle" fill="#1a1a1a" font-weight="normal" font-style="normal" font-family='"Liberation Sans", sans-serif'>0.0</text>
<text x="600.39" y="407.00" font-size="8.8" text-anchor="middle" fill="#1a1a1a" font-weight="normal" font-style="normal" font-family='"Liberation Sans", sans-serif'>0.3</text>
<text x="630.48" y="407.00" font-size="8.8" text-anchor="middle" fill="#1a1a1a" font-weight="normal" font-style="normal" font-family='"Liberation Sans", sans-serif'>0.6</text>
<text x="573.00" y="421.20" font-size="11" text-anchor="middle" fill="#1a1a1a" font-weight="normal" font-style="normal" font-family='"Liberation Sans", sans-serif'><tspan font-style="italic">B</tspan><tspan font-size="7.7" dy="2.4">z</tspan><tspan dy="-2.4"> (T)</tspan></text>
<text x="483.20" y="313.60" font-size="11.3" text-anchor="middle" fill="#1a1a1a" font-weight="normal" font-style="normal" font-family='"Liberation Sans", sans-serif' transform="rotate(-90 483.20 313.60)"><tspan font-family='Liberation Serif' font-style="italic" font-size="13.5">η</tspan> (%)</text>
<text x="625.80" y="243.00" font-size="11.5" text-anchor="start" fill="#111" font-weight="normal" font-style="normal" font-family='"Liberation Sans", sans-serif'><tspan font-style="italic">T</tspan> (K)</text>
<text x="629.00" y="276.70" font-size="10" text-anchor="start" fill="#ea4050" font-weight="normal" font-style="normal" font-family='"Liberation Sans", sans-serif'>1.6</text>
<text x="629.00" y="312.00" font-size="10" text-anchor="start" fill="#ee8833" font-weight="normal" font-style="normal" font-family='"Liberation Sans", sans-serif'>1.1</text>
<text x="629.00" y="347.00" font-size="10" text-anchor="start" fill="#33cc22" font-weight="normal" font-style="normal" font-family='"Liberation Sans", sans-serif'>0.6</text>
<text x="625.00" y="382.00" font-size="10" text-anchor="start" fill="#7722dd" font-weight="normal" font-style="normal" font-family='"Liberation Sans", sans-serif'>0.05</text>
</svg></body></html>
